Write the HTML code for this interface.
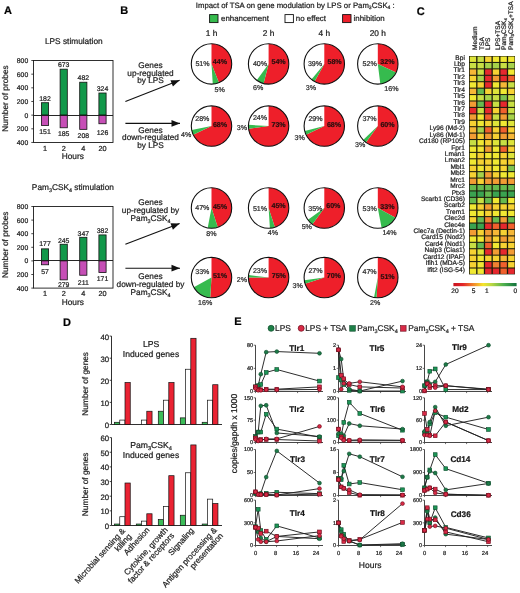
<!DOCTYPE html>
<html><head><meta charset="utf-8"><style>
html,body{margin:0;padding:0;background:#fff;width:520px;height:593px;overflow:hidden}
#w{will-change:transform;width:520px;height:593px}
svg{display:block;font-family:"Liberation Sans",sans-serif;text-rendering:geometricPrecision}
text{stroke-width:0.22px;stroke:#222}
</style></head><body><div id="w">
<svg width="520" height="593" viewBox="0 0 520 593">
<rect width="520" height="593" fill="#fff"/>
<text x="4.00" y="13.80" font-size="11" text-anchor="start" font-weight="bold" fill="#000" stroke="#000" >A</text>
<text x="120.30" y="13.90" font-size="11" text-anchor="start" font-weight="bold" fill="#000" stroke="#000" >B</text>
<text x="416.80" y="14.90" font-size="11" text-anchor="start" font-weight="bold" fill="#000" stroke="#000" >C</text>
<text x="63.00" y="325.60" font-size="11" text-anchor="start" font-weight="bold" fill="#000" stroke="#000" >D</text>
<text x="234.30" y="324.80" font-size="11" text-anchor="start" font-weight="bold" fill="#000" stroke="#000" >E</text>
<rect x="41.40" y="102.71" width="7.20" height="12.43" fill="#12984a" stroke="#111" stroke-width="0.8"/>
<rect x="41.40" y="115.14" width="7.20" height="10.31" fill="#c64fb6" stroke="#111" stroke-width="0.8"/>
<text x="45.00" y="100.91" font-size="6.9" text-anchor="middle" fill="#222" stroke="#222" >182</text>
<text x="45.00" y="133.50" font-size="6.9" text-anchor="middle" fill="#222" stroke="#222" >151</text>
<text x="45.00" y="150.70" font-size="7.3" text-anchor="middle" fill="#222" stroke="#222" >1</text>
<rect x="60.10" y="69.17" width="7.20" height="45.97" fill="#12984a" stroke="#111" stroke-width="0.8"/>
<rect x="60.10" y="115.14" width="7.20" height="12.64" fill="#c64fb6" stroke="#111" stroke-width="0.8"/>
<text x="63.70" y="66.67" font-size="6.9" text-anchor="middle" fill="#222" stroke="#222" >673</text>
<text x="63.70" y="135.60" font-size="6.9" text-anchor="middle" fill="#222" stroke="#222" >185</text>
<text x="63.70" y="150.70" font-size="7.3" text-anchor="middle" fill="#222" stroke="#222" >2</text>
<rect x="79.70" y="82.22" width="7.20" height="32.92" fill="#12984a" stroke="#111" stroke-width="0.8"/>
<rect x="79.70" y="115.14" width="7.20" height="14.21" fill="#c64fb6" stroke="#111" stroke-width="0.8"/>
<text x="83.30" y="80.22" font-size="6.9" text-anchor="middle" fill="#222" stroke="#222" >482</text>
<text x="83.30" y="137.90" font-size="6.9" text-anchor="middle" fill="#222" stroke="#222" >208</text>
<text x="83.30" y="150.70" font-size="7.3" text-anchor="middle" fill="#222" stroke="#222" >4</text>
<rect x="98.90" y="93.01" width="7.20" height="22.13" fill="#12984a" stroke="#111" stroke-width="0.8"/>
<rect x="98.90" y="115.14" width="7.20" height="8.61" fill="#c64fb6" stroke="#111" stroke-width="0.8"/>
<text x="102.50" y="91.01" font-size="6.9" text-anchor="middle" fill="#222" stroke="#222" >324</text>
<text x="102.50" y="135.40" font-size="6.9" text-anchor="middle" fill="#222" stroke="#222" >126</text>
<text x="102.50" y="150.70" font-size="7.3" text-anchor="middle" fill="#222" stroke="#222" >20</text>
<rect x="33.5" y="60.50" width="79.5" height="81.96" fill="none" stroke="#1a1a1a" stroke-width="0.9"/>
<line x1="33.50" y1="115.50" x2="113.00" y2="115.50" stroke="#1a1a1a" stroke-width="0.95" />
<line x1="31.30" y1="60.50" x2="33.50" y2="60.50" stroke="#1a1a1a" stroke-width="0.8" />
<text x="28.20" y="62.90" font-size="6.8" text-anchor="end" fill="#222" stroke="#222" >800</text>
<line x1="31.30" y1="74.16" x2="33.50" y2="74.16" stroke="#1a1a1a" stroke-width="0.8" />
<text x="28.20" y="76.56" font-size="6.8" text-anchor="end" fill="#222" stroke="#222" >600</text>
<line x1="31.30" y1="87.82" x2="33.50" y2="87.82" stroke="#1a1a1a" stroke-width="0.8" />
<text x="28.20" y="90.22" font-size="6.8" text-anchor="end" fill="#222" stroke="#222" >400</text>
<line x1="31.30" y1="101.48" x2="33.50" y2="101.48" stroke="#1a1a1a" stroke-width="0.8" />
<text x="28.20" y="103.88" font-size="6.8" text-anchor="end" fill="#222" stroke="#222" >200</text>
<line x1="31.30" y1="115.14" x2="33.50" y2="115.14" stroke="#1a1a1a" stroke-width="0.8" />
<text x="28.20" y="117.54" font-size="6.8" text-anchor="end" fill="#222" stroke="#222" >0</text>
<line x1="31.30" y1="128.80" x2="33.50" y2="128.80" stroke="#1a1a1a" stroke-width="0.8" />
<text x="28.20" y="131.20" font-size="6.8" text-anchor="end" fill="#222" stroke="#222" >200</text>
<line x1="31.30" y1="142.46" x2="33.50" y2="142.46" stroke="#1a1a1a" stroke-width="0.8" />
<text x="28.20" y="144.86" font-size="6.8" text-anchor="end" fill="#222" stroke="#222" >400</text>
<text x="72.80" y="158.80" font-size="8.3" text-anchor="middle" fill="#222" stroke="#222" >Hours</text>
<text x="0" y="0" font-size="8.3" text-anchor="middle" fill="#222" transform="translate(8.2,98.5) rotate(-90)">Number of probes</text>

<text x="73.80" y="44.40" font-size="8.3" text-anchor="middle" fill="#222" stroke="#222" >LPS stimulation</text>
<rect x="41.40" y="248.86" width="7.20" height="12.04" fill="#12984a" stroke="#111" stroke-width="0.8"/>
<rect x="41.40" y="260.90" width="7.20" height="3.88" fill="#c64fb6" stroke="#111" stroke-width="0.8"/>
<text x="45.00" y="246.46" font-size="6.9" text-anchor="middle" fill="#222" stroke="#222" >177</text>
<text x="45.00" y="273.50" font-size="6.9" text-anchor="middle" fill="#222" stroke="#222" >57</text>
<text x="45.00" y="296.40" font-size="7.3" text-anchor="middle" fill="#222" stroke="#222" >1</text>
<rect x="60.10" y="244.24" width="7.20" height="16.66" fill="#12984a" stroke="#111" stroke-width="0.8"/>
<rect x="60.10" y="260.90" width="7.20" height="18.97" fill="#c64fb6" stroke="#111" stroke-width="0.8"/>
<text x="63.70" y="242.74" font-size="6.9" text-anchor="middle" fill="#222" stroke="#222" >245</text>
<text x="63.70" y="286.60" font-size="6.9" text-anchor="middle" fill="#222" stroke="#222" >279</text>
<text x="63.70" y="296.40" font-size="7.3" text-anchor="middle" fill="#222" stroke="#222" >2</text>
<rect x="79.70" y="237.30" width="7.20" height="23.60" fill="#12984a" stroke="#111" stroke-width="0.8"/>
<rect x="79.70" y="260.90" width="7.20" height="14.35" fill="#c64fb6" stroke="#111" stroke-width="0.8"/>
<text x="83.30" y="235.80" font-size="6.9" text-anchor="middle" fill="#222" stroke="#222" >347</text>
<text x="83.30" y="284.50" font-size="6.9" text-anchor="middle" fill="#222" stroke="#222" >211</text>
<text x="83.30" y="296.40" font-size="7.3" text-anchor="middle" fill="#222" stroke="#222" >4</text>
<rect x="98.90" y="234.92" width="7.20" height="25.98" fill="#12984a" stroke="#111" stroke-width="0.8"/>
<rect x="98.90" y="260.90" width="7.20" height="11.63" fill="#c64fb6" stroke="#111" stroke-width="0.8"/>
<text x="102.50" y="232.72" font-size="6.9" text-anchor="middle" fill="#222" stroke="#222" >382</text>
<text x="102.50" y="280.90" font-size="6.9" text-anchor="middle" fill="#222" stroke="#222" >171</text>
<text x="102.50" y="296.40" font-size="7.3" text-anchor="middle" fill="#222" stroke="#222" >20</text>
<rect x="33.5" y="206.50" width="79.5" height="81.60" fill="none" stroke="#1a1a1a" stroke-width="0.9"/>
<line x1="33.50" y1="260.50" x2="113.00" y2="260.50" stroke="#1a1a1a" stroke-width="0.95" />
<line x1="31.30" y1="206.50" x2="33.50" y2="206.50" stroke="#1a1a1a" stroke-width="0.8" />
<text x="28.20" y="208.90" font-size="6.8" text-anchor="end" fill="#222" stroke="#222" >800</text>
<line x1="31.30" y1="220.10" x2="33.50" y2="220.10" stroke="#1a1a1a" stroke-width="0.8" />
<text x="28.20" y="222.50" font-size="6.8" text-anchor="end" fill="#222" stroke="#222" >600</text>
<line x1="31.30" y1="233.70" x2="33.50" y2="233.70" stroke="#1a1a1a" stroke-width="0.8" />
<text x="28.20" y="236.10" font-size="6.8" text-anchor="end" fill="#222" stroke="#222" >400</text>
<line x1="31.30" y1="247.30" x2="33.50" y2="247.30" stroke="#1a1a1a" stroke-width="0.8" />
<text x="28.20" y="249.70" font-size="6.8" text-anchor="end" fill="#222" stroke="#222" >200</text>
<line x1="31.30" y1="260.90" x2="33.50" y2="260.90" stroke="#1a1a1a" stroke-width="0.8" />
<text x="28.20" y="263.30" font-size="6.8" text-anchor="end" fill="#222" stroke="#222" >0</text>
<line x1="31.30" y1="274.50" x2="33.50" y2="274.50" stroke="#1a1a1a" stroke-width="0.8" />
<text x="28.20" y="276.90" font-size="6.8" text-anchor="end" fill="#222" stroke="#222" >200</text>
<line x1="31.30" y1="288.10" x2="33.50" y2="288.10" stroke="#1a1a1a" stroke-width="0.8" />
<text x="28.20" y="290.50" font-size="6.8" text-anchor="end" fill="#222" stroke="#222" >400</text>
<text x="72.80" y="304.60" font-size="8.3" text-anchor="middle" fill="#222" stroke="#222" >Hours</text>
<text x="0" y="0" font-size="8.3" text-anchor="middle" fill="#222" transform="translate(8.2,244.7) rotate(-90)">Number of probes</text>

<text x="72.9" y="190.4" font-size="8.3" text-anchor="middle" fill="#222">Pam<tspan font-size="65%" dy="1.6">3</tspan><tspan dy="-1.6">CSK</tspan><tspan font-size="65%" dy="1.6">4</tspan><tspan dy="-1.6"> stimulation</tspan></text>
<text x="195.8" y="7.6" font-size="7.75" fill="#222">Impact of TSA on gene modulation by LPS or Pam<tspan font-size="65%" dy="1.4">3</tspan><tspan dy="-1.4">CSK</tspan><tspan font-size="65%" dy="1.4">4</tspan><tspan dy="-1.4"> :</tspan></text>
<rect x="209.60" y="14.60" width="8.40" height="8.00" fill="#36bb4e" stroke="#111" stroke-width="0.9"/>
<text x="221.00" y="20.80" font-size="7.9" text-anchor="start" fill="#222" stroke="#222" >enhancement</text>
<rect x="285.00" y="14.60" width="8.40" height="8.00" fill="#fff" stroke="#111" stroke-width="0.9"/>
<text x="295.80" y="20.80" font-size="7.9" text-anchor="start" fill="#222" stroke="#222" >no effect</text>
<rect x="342.60" y="14.60" width="8.40" height="8.00" fill="#ee1f2a" stroke="#111" stroke-width="0.9"/>
<text x="353.60" y="20.80" font-size="7.9" text-anchor="start" fill="#222" stroke="#222" >inhibition</text>
<text x="211.50" y="36.30" font-size="8.3" text-anchor="middle" fill="#111" stroke="#111" >1 h</text>
<text x="268.60" y="36.30" font-size="8.3" text-anchor="middle" fill="#111" stroke="#111" >2 h</text>
<text x="324.30" y="36.30" font-size="8.3" text-anchor="middle" fill="#111" stroke="#111" >4 h</text>
<text x="377.80" y="36.30" font-size="8.3" text-anchor="middle" fill="#111" stroke="#111" >20 h</text>
<circle cx="211.5" cy="63.9" r="20.2" fill="#fff"/>
<path d="M211.5,63.9 L211.50,43.70 A20.2,20.2 0 0 1 218.94,82.68 Z" fill="#ee1f2a"/>
<path d="M211.5,63.9 L218.94,82.68 A20.2,20.2 0 0 1 212.77,84.06 Z" fill="#36bb4e"/>
<circle cx="211.5" cy="63.9" r="20.2" fill="none" stroke="#111" stroke-width="1.1"/>
<circle cx="268.6" cy="63.9" r="20.2" fill="#fff"/>
<path d="M268.6,63.9 L268.60,43.70 A20.2,20.2 0 1 1 263.58,83.47 Z" fill="#ee1f2a"/>
<path d="M268.6,63.9 L263.58,83.47 A20.2,20.2 0 0 1 256.73,80.24 Z" fill="#36bb4e"/>
<circle cx="268.6" cy="63.9" r="20.2" fill="none" stroke="#111" stroke-width="1.1"/>
<circle cx="324.3" cy="63.9" r="20.2" fill="#fff"/>
<path d="M324.3,63.9 L324.30,43.70 A20.2,20.2 0 1 1 314.57,81.60 Z" fill="#ee1f2a"/>
<path d="M324.3,63.9 L314.57,81.60 A20.2,20.2 0 0 1 311.42,79.46 Z" fill="#36bb4e"/>
<circle cx="324.3" cy="63.9" r="20.2" fill="none" stroke="#111" stroke-width="1.1"/>
<circle cx="377.8" cy="63.9" r="20.2" fill="#fff"/>
<path d="M377.8,63.9 L377.80,43.70 A20.2,20.2 0 0 1 396.08,72.50 Z" fill="#ee1f2a"/>
<path d="M377.8,63.9 L396.08,72.50 A20.2,20.2 0 0 1 380.33,83.94 Z" fill="#36bb4e"/>
<circle cx="377.8" cy="63.9" r="20.2" fill="none" stroke="#111" stroke-width="1.1"/>
<circle cx="211.5" cy="126.1" r="20.2" fill="#fff"/>
<path d="M211.5,126.1 L211.50,105.90 A20.2,20.2 0 1 1 193.22,134.70 Z" fill="#ee1f2a"/>
<path d="M211.5,126.1 L193.22,134.70 A20.2,20.2 0 0 1 191.66,129.89 Z" fill="#36bb4e"/>
<circle cx="211.5" cy="126.1" r="20.2" fill="none" stroke="#111" stroke-width="1.1"/>
<circle cx="268.6" cy="126.1" r="20.2" fill="#fff"/>
<path d="M268.6,126.1 L268.60,105.90 A20.2,20.2 0 1 1 248.56,128.63 Z" fill="#ee1f2a"/>
<path d="M268.6,126.1 L248.56,128.63 A20.2,20.2 0 0 1 248.44,124.83 Z" fill="#36bb4e"/>
<circle cx="268.6" cy="126.1" r="20.2" fill="none" stroke="#111" stroke-width="1.1"/>
<circle cx="324.3" cy="126.1" r="20.2" fill="#fff"/>
<path d="M324.3,126.1 L324.30,105.90 A20.2,20.2 0 1 1 306.02,134.70 Z" fill="#ee1f2a"/>
<path d="M324.3,126.1 L306.02,134.70 A20.2,20.2 0 0 1 304.73,131.12 Z" fill="#36bb4e"/>
<circle cx="324.3" cy="126.1" r="20.2" fill="none" stroke="#111" stroke-width="1.1"/>
<circle cx="377.8" cy="126.1" r="20.2" fill="#fff"/>
<path d="M377.8,126.1 L377.80,105.90 A20.2,20.2 0 1 1 365.93,142.44 Z" fill="#ee1f2a"/>
<path d="M377.8,126.1 L365.93,142.44 A20.2,20.2 0 0 1 363.07,139.93 Z" fill="#36bb4e"/>
<circle cx="377.8" cy="126.1" r="20.2" fill="none" stroke="#111" stroke-width="1.1"/>
<circle cx="211.5" cy="208.0" r="20.2" fill="#fff"/>
<path d="M211.5,208.0 L211.50,187.80 A20.2,20.2 0 0 1 217.74,227.21 Z" fill="#ee1f2a"/>
<path d="M211.5,208.0 L217.74,227.21 A20.2,20.2 0 0 1 207.71,227.84 Z" fill="#36bb4e"/>
<circle cx="211.5" cy="208.0" r="20.2" fill="none" stroke="#111" stroke-width="1.1"/>
<circle cx="268.6" cy="208.0" r="20.2" fill="#fff"/>
<path d="M268.6,208.0 L268.60,187.80 A20.2,20.2 0 0 1 274.84,227.21 Z" fill="#ee1f2a"/>
<path d="M268.6,208.0 L274.84,227.21 A20.2,20.2 0 0 1 269.87,228.16 Z" fill="#36bb4e"/>
<circle cx="268.6" cy="208.0" r="20.2" fill="none" stroke="#111" stroke-width="1.1"/>
<circle cx="324.3" cy="208.0" r="20.2" fill="#fff"/>
<path d="M324.3,208.0 L324.30,187.80 A20.2,20.2 0 1 1 312.43,224.34 Z" fill="#ee1f2a"/>
<path d="M324.3,208.0 L312.43,224.34 A20.2,20.2 0 0 1 307.96,219.87 Z" fill="#36bb4e"/>
<circle cx="324.3" cy="208.0" r="20.2" fill="none" stroke="#111" stroke-width="1.1"/>
<circle cx="377.8" cy="208.0" r="20.2" fill="#fff"/>
<path d="M377.8,208.0 L377.80,187.80 A20.2,20.2 0 0 1 395.50,217.73 Z" fill="#ee1f2a"/>
<path d="M377.8,208.0 L395.50,217.73 A20.2,20.2 0 0 1 381.59,227.84 Z" fill="#36bb4e"/>
<circle cx="377.8" cy="208.0" r="20.2" fill="none" stroke="#111" stroke-width="1.1"/>
<circle cx="211.5" cy="277.6" r="20.2" fill="#fff"/>
<path d="M211.5,277.6 L211.50,257.40 A20.2,20.2 0 1 1 210.23,297.76 Z" fill="#ee1f2a"/>
<path d="M211.5,277.6 L210.23,297.76 A20.2,20.2 0 0 1 193.80,287.33 Z" fill="#36bb4e"/>
<circle cx="211.5" cy="277.6" r="20.2" fill="none" stroke="#111" stroke-width="1.1"/>
<circle cx="268.6" cy="277.6" r="20.2" fill="#fff"/>
<path d="M268.6,277.6 L268.60,257.40 A20.2,20.2 0 1 1 248.40,277.60 Z" fill="#ee1f2a"/>
<path d="M268.6,277.6 L248.40,277.60 A20.2,20.2 0 0 1 248.56,275.07 Z" fill="#36bb4e"/>
<circle cx="268.6" cy="277.6" r="20.2" fill="none" stroke="#111" stroke-width="1.1"/>
<circle cx="324.3" cy="277.6" r="20.2" fill="#fff"/>
<path d="M324.3,277.6 L324.30,257.40 A20.2,20.2 0 1 1 305.09,283.84 Z" fill="#ee1f2a"/>
<path d="M324.3,277.6 L305.09,283.84 A20.2,20.2 0 0 1 304.26,280.13 Z" fill="#36bb4e"/>
<circle cx="324.3" cy="277.6" r="20.2" fill="none" stroke="#111" stroke-width="1.1"/>
<circle cx="377.8" cy="277.6" r="20.2" fill="#fff"/>
<path d="M377.8,277.6 L377.80,257.40 A20.2,20.2 0 1 1 376.53,297.76 Z" fill="#ee1f2a"/>
<path d="M377.8,277.6 L376.53,297.76 A20.2,20.2 0 0 1 374.01,297.44 Z" fill="#36bb4e"/>
<circle cx="377.8" cy="277.6" r="20.2" fill="none" stroke="#111" stroke-width="1.1"/>
<text x="202.50" y="66.20" font-size="7.1" text-anchor="middle" fill="#333" stroke="#333" >51%</text>
<text x="219.90" y="63.80" font-size="7.1" text-anchor="middle" font-weight="bold" fill="#300" stroke="#300" >44%</text>
<text x="219.60" y="91.50" font-size="7.1" text-anchor="middle" fill="#333" stroke="#333" >5%</text>
<text x="260.00" y="65.80" font-size="7.1" text-anchor="middle" fill="#333" stroke="#333" >40%</text>
<text x="278.60" y="63.80" font-size="7.1" text-anchor="middle" font-weight="bold" fill="#300" stroke="#300" >54%</text>
<text x="258.20" y="90.00" font-size="7.1" text-anchor="middle" fill="#333" stroke="#333" >6%</text>
<text x="315.00" y="65.80" font-size="7.1" text-anchor="middle" fill="#333" stroke="#333" >39%</text>
<text x="334.60" y="63.60" font-size="7.1" text-anchor="middle" font-weight="bold" fill="#300" stroke="#300" >58%</text>
<text x="310.90" y="90.00" font-size="7.1" text-anchor="middle" fill="#333" stroke="#333" >3%</text>
<text x="369.70" y="66.00" font-size="7.1" text-anchor="middle" fill="#333" stroke="#333" >52%</text>
<text x="387.40" y="63.80" font-size="7.1" text-anchor="middle" font-weight="bold" fill="#300" stroke="#300" >32%</text>
<text x="391.40" y="90.50" font-size="7.1" text-anchor="middle" fill="#333" stroke="#333" >16%</text>
<text x="202.30" y="120.70" font-size="7.1" text-anchor="middle" fill="#333" stroke="#333" >28%</text>
<text x="220.00" y="126.50" font-size="7.1" text-anchor="middle" font-weight="bold" fill="#300" stroke="#300" >68%</text>
<text x="186.10" y="137.30" font-size="7.1" text-anchor="middle" fill="#333" stroke="#333" >4%</text>
<text x="260.00" y="120.40" font-size="7.1" text-anchor="middle" fill="#333" stroke="#333" >24%</text>
<text x="278.60" y="126.50" font-size="7.1" text-anchor="middle" font-weight="bold" fill="#300" stroke="#300" >73%</text>
<text x="242.00" y="130.00" font-size="7.1" text-anchor="middle" fill="#333" stroke="#333" >3%</text>
<text x="315.50" y="121.00" font-size="7.1" text-anchor="middle" fill="#333" stroke="#333" >29%</text>
<text x="334.00" y="126.70" font-size="7.1" text-anchor="middle" font-weight="bold" fill="#300" stroke="#300" >68%</text>
<text x="299.60" y="139.60" font-size="7.1" text-anchor="middle" fill="#333" stroke="#333" >3%</text>
<text x="369.50" y="121.00" font-size="7.1" text-anchor="middle" fill="#333" stroke="#333" >37%</text>
<text x="387.50" y="126.70" font-size="7.1" text-anchor="middle" font-weight="bold" fill="#300" stroke="#300" >60%</text>
<text x="360.10" y="147.30" font-size="7.1" text-anchor="middle" fill="#333" stroke="#333" >3%</text>
<text x="202.30" y="210.30" font-size="7.1" text-anchor="middle" fill="#333" stroke="#333" >47%</text>
<text x="220.00" y="208.50" font-size="7.1" text-anchor="middle" font-weight="bold" fill="#300" stroke="#300" >45%</text>
<text x="211.50" y="235.80" font-size="7.1" text-anchor="middle" fill="#333" stroke="#333" >8%</text>
<text x="260.00" y="210.80" font-size="7.1" text-anchor="middle" fill="#333" stroke="#333" >51%</text>
<text x="278.60" y="207.90" font-size="7.1" text-anchor="middle" font-weight="bold" fill="#300" stroke="#300" >45%</text>
<text x="273.00" y="235.40" font-size="7.1" text-anchor="middle" fill="#333" stroke="#333" >4%</text>
<text x="315.30" y="210.80" font-size="7.1" text-anchor="middle" fill="#333" stroke="#333" >35%</text>
<text x="333.30" y="208.00" font-size="7.1" text-anchor="middle" font-weight="bold" fill="#300" stroke="#300" >60%</text>
<text x="306.80" y="229.00" font-size="7.1" text-anchor="middle" fill="#333" stroke="#333" >5%</text>
<text x="369.70" y="210.80" font-size="7.1" text-anchor="middle" fill="#333" stroke="#333" >53%</text>
<text x="387.40" y="208.50" font-size="7.1" text-anchor="middle" font-weight="bold" fill="#300" stroke="#300" >33%</text>
<text x="389.50" y="235.40" font-size="7.1" text-anchor="middle" fill="#333" stroke="#333" >14%</text>
<text x="202.30" y="273.50" font-size="7.1" text-anchor="middle" fill="#333" stroke="#333" >33%</text>
<text x="220.00" y="278.00" font-size="7.1" text-anchor="middle" font-weight="bold" fill="#300" stroke="#300" >51%</text>
<text x="205.20" y="305.00" font-size="7.1" text-anchor="middle" fill="#333" stroke="#333" >16%</text>
<text x="260.00" y="273.00" font-size="7.1" text-anchor="middle" fill="#333" stroke="#333" >23%</text>
<text x="278.80" y="277.90" font-size="7.1" text-anchor="middle" font-weight="bold" fill="#300" stroke="#300" >75%</text>
<text x="242.00" y="282.00" font-size="7.1" text-anchor="middle" fill="#333" stroke="#333" >2%</text>
<text x="315.50" y="273.00" font-size="7.1" text-anchor="middle" fill="#333" stroke="#333" >27%</text>
<text x="333.80" y="278.00" font-size="7.1" text-anchor="middle" font-weight="bold" fill="#300" stroke="#300" >70%</text>
<text x="297.70" y="288.00" font-size="7.1" text-anchor="middle" fill="#333" stroke="#333" >3%</text>
<text x="369.60" y="273.70" font-size="7.1" text-anchor="middle" fill="#333" stroke="#333" >47%</text>
<text x="387.60" y="278.90" font-size="7.1" text-anchor="middle" font-weight="bold" fill="#300" stroke="#300" >51%</text>
<text x="375.20" y="304.90" font-size="7.1" text-anchor="middle" fill="#333" stroke="#333" >2%</text>
<line x1="125.40" y1="101.50" x2="179.60" y2="80.30" stroke="#111" stroke-width="1.1" />
<path d="M179.60,80.30 L172.92,86.56 L170.45,80.23 Z" fill="#111"/>
<line x1="125.40" y1="123.40" x2="180.00" y2="123.40" stroke="#111" stroke-width="1.1" />
<path d="M180.00,123.40 L171.50,126.80 L171.50,120.00 Z" fill="#111"/>
<line x1="125.40" y1="244.30" x2="179.60" y2="223.40" stroke="#111" stroke-width="1.1" />
<path d="M179.60,223.40 L172.89,229.63 L170.45,223.29 Z" fill="#111"/>
<line x1="125.40" y1="268.20" x2="180.00" y2="268.20" stroke="#111" stroke-width="1.1" />
<path d="M180.00,268.20 L171.50,271.60 L171.50,264.80 Z" fill="#111"/>
<text x="150.50" y="68.00" font-size="8.25" text-anchor="middle" fill="#222" stroke="#222" >Genes</text>
<text x="150.50" y="75.70" font-size="8.25" text-anchor="middle" fill="#222" stroke="#222" >up-regulated</text>
<text x="150.50" y="83.00" font-size="8.25" text-anchor="middle" fill="#222" stroke="#222" >by LPS</text>
<text x="150.50" y="132.60" font-size="8.25" text-anchor="middle" fill="#222" stroke="#222" >Genes</text>
<text x="150.50" y="140.30" font-size="8.25" text-anchor="middle" fill="#222" stroke="#222" >down-regulated</text>
<text x="150.50" y="147.70" font-size="8.25" text-anchor="middle" fill="#222" stroke="#222" >by LPS</text>
<text x="150.50" y="205.40" font-size="8.25" text-anchor="middle" fill="#222" stroke="#222" >Genes</text>
<text x="150.50" y="213.20" font-size="8.25" text-anchor="middle" fill="#222" stroke="#222" >up-regulated by</text>
<text x="150.5" y="221.0" font-size="8.25" text-anchor="middle" fill="#222">Pam<tspan font-size="65%" dy="1.6">3</tspan><tspan dy="-1.6">CSK</tspan><tspan font-size="65%" dy="1.6">4</tspan><tspan dy="-1.6"></tspan></text>
<text x="150.50" y="278.60" font-size="8.25" text-anchor="middle" fill="#222" stroke="#222" >Genes</text>
<text x="150.50" y="286.60" font-size="8.25" text-anchor="middle" fill="#222" stroke="#222" >down-regulated by</text>
<text x="150.5" y="295.2" font-size="8.25" text-anchor="middle" fill="#222">Pam<tspan font-size="65%" dy="1.6">3</tspan><tspan dy="-1.6">CSK</tspan><tspan font-size="65%" dy="1.6">4</tspan><tspan dy="-1.6"></tspan></text>
<rect x="469.00" y="56.00" width="46.00" height="218.40" fill="#1c1c0c" stroke="none" stroke-width="0.8"/>
<rect x="469.80" y="56.55" width="6.37" height="5.37" fill="#dde43a" stroke="none" stroke-width="0.8"/>
<rect x="477.47" y="56.55" width="6.37" height="5.37" fill="#c8df44" stroke="none" stroke-width="0.8"/>
<rect x="485.13" y="56.55" width="6.37" height="5.37" fill="#f6d233" stroke="none" stroke-width="0.8"/>
<rect x="492.80" y="56.55" width="6.37" height="5.37" fill="#f0e833" stroke="none" stroke-width="0.8"/>
<rect x="500.47" y="56.55" width="6.37" height="5.37" fill="#f0e833" stroke="none" stroke-width="0.8"/>
<rect x="508.13" y="56.55" width="6.37" height="5.37" fill="#f0e833" stroke="none" stroke-width="0.8"/>
<text x="464.90" y="59.61" font-size="6.6" text-anchor="end" fill="#222" stroke="#222" >Bpi</text>
<rect x="469.80" y="62.97" width="6.37" height="5.37" fill="#c8df44" stroke="none" stroke-width="0.8"/>
<rect x="477.47" y="62.97" width="6.37" height="5.37" fill="#c8df44" stroke="none" stroke-width="0.8"/>
<rect x="485.13" y="62.97" width="6.37" height="5.37" fill="#a6d24a" stroke="none" stroke-width="0.8"/>
<rect x="492.80" y="62.97" width="6.37" height="5.37" fill="#a6d24a" stroke="none" stroke-width="0.8"/>
<rect x="500.47" y="62.97" width="6.37" height="5.37" fill="#c8df44" stroke="none" stroke-width="0.8"/>
<rect x="508.13" y="62.97" width="6.37" height="5.37" fill="#a6d24a" stroke="none" stroke-width="0.8"/>
<text x="464.90" y="66.04" font-size="6.6" text-anchor="end" fill="#222" stroke="#222" >Lbp</text>
<rect x="469.80" y="69.40" width="6.37" height="5.37" fill="#f5b737" stroke="none" stroke-width="0.8"/>
<rect x="477.47" y="69.40" width="6.37" height="5.37" fill="#c8df44" stroke="none" stroke-width="0.8"/>
<rect x="485.13" y="69.40" width="6.37" height="5.37" fill="#e6282e" stroke="none" stroke-width="0.8"/>
<rect x="492.80" y="69.40" width="6.37" height="5.37" fill="#f6d233" stroke="none" stroke-width="0.8"/>
<rect x="500.47" y="69.40" width="6.37" height="5.37" fill="#e6282e" stroke="none" stroke-width="0.8"/>
<rect x="508.13" y="69.40" width="6.37" height="5.37" fill="#f0e833" stroke="none" stroke-width="0.8"/>
<text x="464.90" y="72.46" font-size="6.6" text-anchor="end" fill="#222" stroke="#222" >Tlr1</text>
<rect x="469.80" y="75.82" width="6.37" height="5.37" fill="#f6d233" stroke="none" stroke-width="0.8"/>
<rect x="477.47" y="75.82" width="6.37" height="5.37" fill="#a6d24a" stroke="none" stroke-width="0.8"/>
<rect x="485.13" y="75.82" width="6.37" height="5.37" fill="#e6282e" stroke="none" stroke-width="0.8"/>
<rect x="492.80" y="75.82" width="6.37" height="5.37" fill="#f29c34" stroke="none" stroke-width="0.8"/>
<rect x="500.47" y="75.82" width="6.37" height="5.37" fill="#e6282e" stroke="none" stroke-width="0.8"/>
<rect x="508.13" y="75.82" width="6.37" height="5.37" fill="#f0602d" stroke="none" stroke-width="0.8"/>
<text x="464.90" y="78.88" font-size="6.6" text-anchor="end" fill="#222" stroke="#222" >Tlr2</text>
<rect x="469.80" y="82.24" width="6.37" height="5.37" fill="#f0e833" stroke="none" stroke-width="0.8"/>
<rect x="477.47" y="82.24" width="6.37" height="5.37" fill="#f6d233" stroke="none" stroke-width="0.8"/>
<rect x="485.13" y="82.24" width="6.37" height="5.37" fill="#e6282e" stroke="none" stroke-width="0.8"/>
<rect x="492.80" y="82.24" width="6.37" height="5.37" fill="#f0e833" stroke="none" stroke-width="0.8"/>
<rect x="500.47" y="82.24" width="6.37" height="5.37" fill="#f5b737" stroke="none" stroke-width="0.8"/>
<rect x="508.13" y="82.24" width="6.37" height="5.37" fill="#c8df44" stroke="none" stroke-width="0.8"/>
<text x="464.90" y="85.31" font-size="6.6" text-anchor="end" fill="#222" stroke="#222" >Tlr3</text>
<rect x="469.80" y="88.67" width="6.37" height="5.37" fill="#f5b737" stroke="none" stroke-width="0.8"/>
<rect x="477.47" y="88.67" width="6.37" height="5.37" fill="#66ba4f" stroke="none" stroke-width="0.8"/>
<rect x="485.13" y="88.67" width="6.37" height="5.37" fill="#f6d233" stroke="none" stroke-width="0.8"/>
<rect x="492.80" y="88.67" width="6.37" height="5.37" fill="#dde43a" stroke="none" stroke-width="0.8"/>
<rect x="500.47" y="88.67" width="6.37" height="5.37" fill="#f0e833" stroke="none" stroke-width="0.8"/>
<rect x="508.13" y="88.67" width="6.37" height="5.37" fill="#f6d233" stroke="none" stroke-width="0.8"/>
<text x="464.90" y="91.73" font-size="6.6" text-anchor="end" fill="#222" stroke="#222" >Tlr4</text>
<rect x="469.80" y="95.09" width="6.37" height="5.37" fill="#f0e833" stroke="none" stroke-width="0.8"/>
<rect x="477.47" y="95.09" width="6.37" height="5.37" fill="#c8df44" stroke="none" stroke-width="0.8"/>
<rect x="485.13" y="95.09" width="6.37" height="5.37" fill="#a6d24a" stroke="none" stroke-width="0.8"/>
<rect x="492.80" y="95.09" width="6.37" height="5.37" fill="#c8df44" stroke="none" stroke-width="0.8"/>
<rect x="500.47" y="95.09" width="6.37" height="5.37" fill="#7ec251" stroke="none" stroke-width="0.8"/>
<rect x="508.13" y="95.09" width="6.37" height="5.37" fill="#c8df44" stroke="none" stroke-width="0.8"/>
<text x="464.90" y="98.15" font-size="6.6" text-anchor="end" fill="#222" stroke="#222" >Tlr5</text>
<rect x="469.80" y="101.51" width="6.37" height="5.37" fill="#f29c34" stroke="none" stroke-width="0.8"/>
<rect x="477.47" y="101.51" width="6.37" height="5.37" fill="#66ba4f" stroke="none" stroke-width="0.8"/>
<rect x="485.13" y="101.51" width="6.37" height="5.37" fill="#e6282e" stroke="none" stroke-width="0.8"/>
<rect x="492.80" y="101.51" width="6.37" height="5.37" fill="#c8df44" stroke="none" stroke-width="0.8"/>
<rect x="500.47" y="101.51" width="6.37" height="5.37" fill="#e6282e" stroke="none" stroke-width="0.8"/>
<rect x="508.13" y="101.51" width="6.37" height="5.37" fill="#c8df44" stroke="none" stroke-width="0.8"/>
<text x="464.90" y="104.58" font-size="6.6" text-anchor="end" fill="#222" stroke="#222" >Tlr6</text>
<rect x="469.80" y="107.94" width="6.37" height="5.37" fill="#e6282e" stroke="none" stroke-width="0.8"/>
<rect x="477.47" y="107.94" width="6.37" height="5.37" fill="#c8df44" stroke="none" stroke-width="0.8"/>
<rect x="485.13" y="107.94" width="6.37" height="5.37" fill="#e6282e" stroke="none" stroke-width="0.8"/>
<rect x="492.80" y="107.94" width="6.37" height="5.37" fill="#f6d233" stroke="none" stroke-width="0.8"/>
<rect x="500.47" y="107.94" width="6.37" height="5.37" fill="#f0602d" stroke="none" stroke-width="0.8"/>
<rect x="508.13" y="107.94" width="6.37" height="5.37" fill="#c8df44" stroke="none" stroke-width="0.8"/>
<text x="464.90" y="111.00" font-size="6.6" text-anchor="end" fill="#222" stroke="#222" >Tlr7</text>
<rect x="469.80" y="114.36" width="6.37" height="5.37" fill="#f29c34" stroke="none" stroke-width="0.8"/>
<rect x="477.47" y="114.36" width="6.37" height="5.37" fill="#f0e833" stroke="none" stroke-width="0.8"/>
<rect x="485.13" y="114.36" width="6.37" height="5.37" fill="#f0602d" stroke="none" stroke-width="0.8"/>
<rect x="492.80" y="114.36" width="6.37" height="5.37" fill="#c8df44" stroke="none" stroke-width="0.8"/>
<rect x="500.47" y="114.36" width="6.37" height="5.37" fill="#f29c34" stroke="none" stroke-width="0.8"/>
<rect x="508.13" y="114.36" width="6.37" height="5.37" fill="#a6d24a" stroke="none" stroke-width="0.8"/>
<text x="464.90" y="117.42" font-size="6.6" text-anchor="end" fill="#222" stroke="#222" >Tlr8</text>
<rect x="469.80" y="120.79" width="6.37" height="5.37" fill="#f6d233" stroke="none" stroke-width="0.8"/>
<rect x="477.47" y="120.79" width="6.37" height="5.37" fill="#f0e833" stroke="none" stroke-width="0.8"/>
<rect x="485.13" y="120.79" width="6.37" height="5.37" fill="#f6d233" stroke="none" stroke-width="0.8"/>
<rect x="492.80" y="120.79" width="6.37" height="5.37" fill="#dde43a" stroke="none" stroke-width="0.8"/>
<rect x="500.47" y="120.79" width="6.37" height="5.37" fill="#f0e833" stroke="none" stroke-width="0.8"/>
<rect x="508.13" y="120.79" width="6.37" height="5.37" fill="#dde43a" stroke="none" stroke-width="0.8"/>
<text x="464.90" y="123.85" font-size="6.6" text-anchor="end" fill="#222" stroke="#222" >Tlr9</text>
<rect x="469.80" y="127.21" width="6.37" height="5.37" fill="#f5b737" stroke="none" stroke-width="0.8"/>
<rect x="477.47" y="127.21" width="6.37" height="5.37" fill="#a6d24a" stroke="none" stroke-width="0.8"/>
<rect x="485.13" y="127.21" width="6.37" height="5.37" fill="#f0602d" stroke="none" stroke-width="0.8"/>
<rect x="492.80" y="127.21" width="6.37" height="5.37" fill="#f6d233" stroke="none" stroke-width="0.8"/>
<rect x="500.47" y="127.21" width="6.37" height="5.37" fill="#f0602d" stroke="none" stroke-width="0.8"/>
<rect x="508.13" y="127.21" width="6.37" height="5.37" fill="#f6d233" stroke="none" stroke-width="0.8"/>
<text x="464.90" y="130.27" font-size="6.6" text-anchor="end" fill="#222" stroke="#222" >Ly96 (Md-2)</text>
<rect x="469.80" y="133.63" width="6.37" height="5.37" fill="#f29c34" stroke="none" stroke-width="0.8"/>
<rect x="477.47" y="133.63" width="6.37" height="5.37" fill="#f6d233" stroke="none" stroke-width="0.8"/>
<rect x="485.13" y="133.63" width="6.37" height="5.37" fill="#f29c34" stroke="none" stroke-width="0.8"/>
<rect x="492.80" y="133.63" width="6.37" height="5.37" fill="#f6d233" stroke="none" stroke-width="0.8"/>
<rect x="500.47" y="133.63" width="6.37" height="5.37" fill="#f29c34" stroke="none" stroke-width="0.8"/>
<rect x="508.13" y="133.63" width="6.37" height="5.37" fill="#f5b737" stroke="none" stroke-width="0.8"/>
<text x="464.90" y="136.69" font-size="6.6" text-anchor="end" fill="#222" stroke="#222" >Ly86 (Md-1)</text>
<rect x="469.80" y="140.06" width="6.37" height="5.37" fill="#c8df44" stroke="none" stroke-width="0.8"/>
<rect x="477.47" y="140.06" width="6.37" height="5.37" fill="#f0e833" stroke="none" stroke-width="0.8"/>
<rect x="485.13" y="140.06" width="6.37" height="5.37" fill="#f6d233" stroke="none" stroke-width="0.8"/>
<rect x="492.80" y="140.06" width="6.37" height="5.37" fill="#dde43a" stroke="none" stroke-width="0.8"/>
<rect x="500.47" y="140.06" width="6.37" height="5.37" fill="#c8df44" stroke="none" stroke-width="0.8"/>
<rect x="508.13" y="140.06" width="6.37" height="5.37" fill="#dde43a" stroke="none" stroke-width="0.8"/>
<text x="464.90" y="143.12" font-size="6.6" text-anchor="end" fill="#222" stroke="#222" >Cd180 (RP105)</text>
<rect x="469.80" y="146.48" width="6.37" height="5.37" fill="#f0e833" stroke="none" stroke-width="0.8"/>
<rect x="477.47" y="146.48" width="6.37" height="5.37" fill="#f0e833" stroke="none" stroke-width="0.8"/>
<rect x="485.13" y="146.48" width="6.37" height="5.37" fill="#f29c34" stroke="none" stroke-width="0.8"/>
<rect x="492.80" y="146.48" width="6.37" height="5.37" fill="#f0e833" stroke="none" stroke-width="0.8"/>
<rect x="500.47" y="146.48" width="6.37" height="5.37" fill="#f0602d" stroke="none" stroke-width="0.8"/>
<rect x="508.13" y="146.48" width="6.37" height="5.37" fill="#f6d233" stroke="none" stroke-width="0.8"/>
<text x="464.90" y="149.54" font-size="6.6" text-anchor="end" fill="#222" stroke="#222" >Fpr1</text>
<rect x="469.80" y="152.90" width="6.37" height="5.37" fill="#f0e833" stroke="none" stroke-width="0.8"/>
<rect x="477.47" y="152.90" width="6.37" height="5.37" fill="#f6d233" stroke="none" stroke-width="0.8"/>
<rect x="485.13" y="152.90" width="6.37" height="5.37" fill="#f0e833" stroke="none" stroke-width="0.8"/>
<rect x="492.80" y="152.90" width="6.37" height="5.37" fill="#f0e833" stroke="none" stroke-width="0.8"/>
<rect x="500.47" y="152.90" width="6.37" height="5.37" fill="#f6d233" stroke="none" stroke-width="0.8"/>
<rect x="508.13" y="152.90" width="6.37" height="5.37" fill="#dde43a" stroke="none" stroke-width="0.8"/>
<text x="464.90" y="155.96" font-size="6.6" text-anchor="end" fill="#222" stroke="#222" >Lman1</text>
<rect x="469.80" y="159.33" width="6.37" height="5.37" fill="#f0e833" stroke="none" stroke-width="0.8"/>
<rect x="477.47" y="159.33" width="6.37" height="5.37" fill="#f6d233" stroke="none" stroke-width="0.8"/>
<rect x="485.13" y="159.33" width="6.37" height="5.37" fill="#f6d233" stroke="none" stroke-width="0.8"/>
<rect x="492.80" y="159.33" width="6.37" height="5.37" fill="#f0e833" stroke="none" stroke-width="0.8"/>
<rect x="500.47" y="159.33" width="6.37" height="5.37" fill="#f6d233" stroke="none" stroke-width="0.8"/>
<rect x="508.13" y="159.33" width="6.37" height="5.37" fill="#f6d233" stroke="none" stroke-width="0.8"/>
<text x="464.90" y="162.39" font-size="6.6" text-anchor="end" fill="#222" stroke="#222" >Lman2</text>
<rect x="469.80" y="165.75" width="6.37" height="5.37" fill="#f6d233" stroke="none" stroke-width="0.8"/>
<rect x="477.47" y="165.75" width="6.37" height="5.37" fill="#f0e833" stroke="none" stroke-width="0.8"/>
<rect x="485.13" y="165.75" width="6.37" height="5.37" fill="#f6d233" stroke="none" stroke-width="0.8"/>
<rect x="492.80" y="165.75" width="6.37" height="5.37" fill="#f0e833" stroke="none" stroke-width="0.8"/>
<rect x="500.47" y="165.75" width="6.37" height="5.37" fill="#f6d233" stroke="none" stroke-width="0.8"/>
<rect x="508.13" y="165.75" width="6.37" height="5.37" fill="#7ec251" stroke="none" stroke-width="0.8"/>
<text x="464.90" y="168.81" font-size="6.6" text-anchor="end" fill="#222" stroke="#222" >Mbl1</text>
<rect x="469.80" y="172.17" width="6.37" height="5.37" fill="#f6d233" stroke="none" stroke-width="0.8"/>
<rect x="477.47" y="172.17" width="6.37" height="5.37" fill="#a6d24a" stroke="none" stroke-width="0.8"/>
<rect x="485.13" y="172.17" width="6.37" height="5.37" fill="#f29c34" stroke="none" stroke-width="0.8"/>
<rect x="492.80" y="172.17" width="6.37" height="5.37" fill="#f6d233" stroke="none" stroke-width="0.8"/>
<rect x="500.47" y="172.17" width="6.37" height="5.37" fill="#f0e833" stroke="none" stroke-width="0.8"/>
<rect x="508.13" y="172.17" width="6.37" height="5.37" fill="#f0e833" stroke="none" stroke-width="0.8"/>
<text x="464.90" y="175.24" font-size="6.6" text-anchor="end" fill="#222" stroke="#222" >Mbl2</text>
<rect x="469.80" y="178.60" width="6.37" height="5.37" fill="#f29c34" stroke="none" stroke-width="0.8"/>
<rect x="477.47" y="178.60" width="6.37" height="5.37" fill="#f6d233" stroke="none" stroke-width="0.8"/>
<rect x="485.13" y="178.60" width="6.37" height="5.37" fill="#f29c34" stroke="none" stroke-width="0.8"/>
<rect x="492.80" y="178.60" width="6.37" height="5.37" fill="#f29c34" stroke="none" stroke-width="0.8"/>
<rect x="500.47" y="178.60" width="6.37" height="5.37" fill="#f29c34" stroke="none" stroke-width="0.8"/>
<rect x="508.13" y="178.60" width="6.37" height="5.37" fill="#f29c34" stroke="none" stroke-width="0.8"/>
<text x="464.90" y="181.66" font-size="6.6" text-anchor="end" fill="#222" stroke="#222" >Mrc1</text>
<rect x="469.80" y="185.02" width="6.37" height="5.37" fill="#66ba4f" stroke="none" stroke-width="0.8"/>
<rect x="477.47" y="185.02" width="6.37" height="5.37" fill="#66ba4f" stroke="none" stroke-width="0.8"/>
<rect x="485.13" y="185.02" width="6.37" height="5.37" fill="#66ba4f" stroke="none" stroke-width="0.8"/>
<rect x="492.80" y="185.02" width="6.37" height="5.37" fill="#66ba4f" stroke="none" stroke-width="0.8"/>
<rect x="500.47" y="185.02" width="6.37" height="5.37" fill="#66ba4f" stroke="none" stroke-width="0.8"/>
<rect x="508.13" y="185.02" width="6.37" height="5.37" fill="#66ba4f" stroke="none" stroke-width="0.8"/>
<text x="464.90" y="188.08" font-size="6.6" text-anchor="end" fill="#222" stroke="#222" >Mrc2</text>
<rect x="469.80" y="191.44" width="6.37" height="5.37" fill="#3aa350" stroke="none" stroke-width="0.8"/>
<rect x="477.47" y="191.44" width="6.37" height="5.37" fill="#3aa350" stroke="none" stroke-width="0.8"/>
<rect x="485.13" y="191.44" width="6.37" height="5.37" fill="#66ba4f" stroke="none" stroke-width="0.8"/>
<rect x="492.80" y="191.44" width="6.37" height="5.37" fill="#3aa350" stroke="none" stroke-width="0.8"/>
<rect x="500.47" y="191.44" width="6.37" height="5.37" fill="#3aa350" stroke="none" stroke-width="0.8"/>
<rect x="508.13" y="191.44" width="6.37" height="5.37" fill="#3aa350" stroke="none" stroke-width="0.8"/>
<text x="464.90" y="194.51" font-size="6.6" text-anchor="end" fill="#222" stroke="#222" >Ptx3</text>
<rect x="469.80" y="197.87" width="6.37" height="5.37" fill="#66ba4f" stroke="none" stroke-width="0.8"/>
<rect x="477.47" y="197.87" width="6.37" height="5.37" fill="#c8df44" stroke="none" stroke-width="0.8"/>
<rect x="485.13" y="197.87" width="6.37" height="5.37" fill="#66ba4f" stroke="none" stroke-width="0.8"/>
<rect x="492.80" y="197.87" width="6.37" height="5.37" fill="#f0e833" stroke="none" stroke-width="0.8"/>
<rect x="500.47" y="197.87" width="6.37" height="5.37" fill="#66ba4f" stroke="none" stroke-width="0.8"/>
<rect x="508.13" y="197.87" width="6.37" height="5.37" fill="#f0e833" stroke="none" stroke-width="0.8"/>
<text x="464.90" y="200.93" font-size="6.6" text-anchor="end" fill="#222" stroke="#222" >Scarb1 (CD36)</text>
<rect x="469.80" y="204.29" width="6.37" height="5.37" fill="#f0e833" stroke="none" stroke-width="0.8"/>
<rect x="477.47" y="204.29" width="6.37" height="5.37" fill="#f6d233" stroke="none" stroke-width="0.8"/>
<rect x="485.13" y="204.29" width="6.37" height="5.37" fill="#f29c34" stroke="none" stroke-width="0.8"/>
<rect x="492.80" y="204.29" width="6.37" height="5.37" fill="#f6d233" stroke="none" stroke-width="0.8"/>
<rect x="500.47" y="204.29" width="6.37" height="5.37" fill="#f6d233" stroke="none" stroke-width="0.8"/>
<rect x="508.13" y="204.29" width="6.37" height="5.37" fill="#f6d233" stroke="none" stroke-width="0.8"/>
<text x="464.90" y="207.35" font-size="6.6" text-anchor="end" fill="#222" stroke="#222" >Scarb2</text>
<rect x="469.80" y="210.71" width="6.37" height="5.37" fill="#f0e833" stroke="none" stroke-width="0.8"/>
<rect x="477.47" y="210.71" width="6.37" height="5.37" fill="#f0e833" stroke="none" stroke-width="0.8"/>
<rect x="485.13" y="210.71" width="6.37" height="5.37" fill="#f6d233" stroke="none" stroke-width="0.8"/>
<rect x="492.80" y="210.71" width="6.37" height="5.37" fill="#f0e833" stroke="none" stroke-width="0.8"/>
<rect x="500.47" y="210.71" width="6.37" height="5.37" fill="#f0e833" stroke="none" stroke-width="0.8"/>
<rect x="508.13" y="210.71" width="6.37" height="5.37" fill="#f0e833" stroke="none" stroke-width="0.8"/>
<text x="464.90" y="213.78" font-size="6.6" text-anchor="end" fill="#222" stroke="#222" >Trem1</text>
<rect x="469.80" y="217.14" width="6.37" height="5.37" fill="#f6d233" stroke="none" stroke-width="0.8"/>
<rect x="477.47" y="217.14" width="6.37" height="5.37" fill="#66ba4f" stroke="none" stroke-width="0.8"/>
<rect x="485.13" y="217.14" width="6.37" height="5.37" fill="#f08232" stroke="none" stroke-width="0.8"/>
<rect x="492.80" y="217.14" width="6.37" height="5.37" fill="#66ba4f" stroke="none" stroke-width="0.8"/>
<rect x="500.47" y="217.14" width="6.37" height="5.37" fill="#f29c34" stroke="none" stroke-width="0.8"/>
<rect x="508.13" y="217.14" width="6.37" height="5.37" fill="#66ba4f" stroke="none" stroke-width="0.8"/>
<text x="464.90" y="220.20" font-size="6.6" text-anchor="end" fill="#222" stroke="#222" >Clec2d</text>
<rect x="469.80" y="223.56" width="6.37" height="5.37" fill="#3aa350" stroke="none" stroke-width="0.8"/>
<rect x="477.47" y="223.56" width="6.37" height="5.37" fill="#3aa350" stroke="none" stroke-width="0.8"/>
<rect x="485.13" y="223.56" width="6.37" height="5.37" fill="#e6282e" stroke="none" stroke-width="0.8"/>
<rect x="492.80" y="223.56" width="6.37" height="5.37" fill="#f0602d" stroke="none" stroke-width="0.8"/>
<rect x="500.47" y="223.56" width="6.37" height="5.37" fill="#e6282e" stroke="none" stroke-width="0.8"/>
<rect x="508.13" y="223.56" width="6.37" height="5.37" fill="#f0602d" stroke="none" stroke-width="0.8"/>
<text x="464.90" y="226.62" font-size="6.6" text-anchor="end" fill="#222" stroke="#222" >Clec4e</text>
<rect x="469.80" y="229.99" width="6.37" height="5.37" fill="#f29c34" stroke="none" stroke-width="0.8"/>
<rect x="477.47" y="229.99" width="6.37" height="5.37" fill="#f6d233" stroke="none" stroke-width="0.8"/>
<rect x="485.13" y="229.99" width="6.37" height="5.37" fill="#f29c34" stroke="none" stroke-width="0.8"/>
<rect x="492.80" y="229.99" width="6.37" height="5.37" fill="#f5b737" stroke="none" stroke-width="0.8"/>
<rect x="500.47" y="229.99" width="6.37" height="5.37" fill="#f6d233" stroke="none" stroke-width="0.8"/>
<rect x="508.13" y="229.99" width="6.37" height="5.37" fill="#f5b737" stroke="none" stroke-width="0.8"/>
<text x="464.90" y="233.05" font-size="6.6" text-anchor="end" fill="#222" stroke="#222" >Clec7a (Dectin-1)</text>
<rect x="469.80" y="236.41" width="6.37" height="5.37" fill="#f0e833" stroke="none" stroke-width="0.8"/>
<rect x="477.47" y="236.41" width="6.37" height="5.37" fill="#f0e833" stroke="none" stroke-width="0.8"/>
<rect x="485.13" y="236.41" width="6.37" height="5.37" fill="#f29c34" stroke="none" stroke-width="0.8"/>
<rect x="492.80" y="236.41" width="6.37" height="5.37" fill="#f6d233" stroke="none" stroke-width="0.8"/>
<rect x="500.47" y="236.41" width="6.37" height="5.37" fill="#f29c34" stroke="none" stroke-width="0.8"/>
<rect x="508.13" y="236.41" width="6.37" height="5.37" fill="#f5b737" stroke="none" stroke-width="0.8"/>
<text x="464.90" y="239.47" font-size="6.6" text-anchor="end" fill="#222" stroke="#222" >Card15 (Nod2)</text>
<rect x="469.80" y="242.83" width="6.37" height="5.37" fill="#c8df44" stroke="none" stroke-width="0.8"/>
<rect x="477.47" y="242.83" width="6.37" height="5.37" fill="#66ba4f" stroke="none" stroke-width="0.8"/>
<rect x="485.13" y="242.83" width="6.37" height="5.37" fill="#f0602d" stroke="none" stroke-width="0.8"/>
<rect x="492.80" y="242.83" width="6.37" height="5.37" fill="#f0e833" stroke="none" stroke-width="0.8"/>
<rect x="500.47" y="242.83" width="6.37" height="5.37" fill="#f6d233" stroke="none" stroke-width="0.8"/>
<rect x="508.13" y="242.83" width="6.37" height="5.37" fill="#f6d233" stroke="none" stroke-width="0.8"/>
<text x="464.90" y="245.89" font-size="6.6" text-anchor="end" fill="#222" stroke="#222" >Card4 (Nod1)</text>
<rect x="469.80" y="249.26" width="6.37" height="5.37" fill="#f6d233" stroke="none" stroke-width="0.8"/>
<rect x="477.47" y="249.26" width="6.37" height="5.37" fill="#dde43a" stroke="none" stroke-width="0.8"/>
<rect x="485.13" y="249.26" width="6.37" height="5.37" fill="#e6282e" stroke="none" stroke-width="0.8"/>
<rect x="492.80" y="249.26" width="6.37" height="5.37" fill="#f29c34" stroke="none" stroke-width="0.8"/>
<rect x="500.47" y="249.26" width="6.37" height="5.37" fill="#e6282e" stroke="none" stroke-width="0.8"/>
<rect x="508.13" y="249.26" width="6.37" height="5.37" fill="#f29c34" stroke="none" stroke-width="0.8"/>
<text x="464.90" y="252.32" font-size="6.6" text-anchor="end" fill="#222" stroke="#222" >Nalp3 (Cias1)</text>
<rect x="469.80" y="255.68" width="6.37" height="5.37" fill="#f6d233" stroke="none" stroke-width="0.8"/>
<rect x="477.47" y="255.68" width="6.37" height="5.37" fill="#f0e833" stroke="none" stroke-width="0.8"/>
<rect x="485.13" y="255.68" width="6.37" height="5.37" fill="#f6d233" stroke="none" stroke-width="0.8"/>
<rect x="492.80" y="255.68" width="6.37" height="5.37" fill="#f6d233" stroke="none" stroke-width="0.8"/>
<rect x="500.47" y="255.68" width="6.37" height="5.37" fill="#f5b737" stroke="none" stroke-width="0.8"/>
<rect x="508.13" y="255.68" width="6.37" height="5.37" fill="#f6d233" stroke="none" stroke-width="0.8"/>
<text x="464.90" y="258.74" font-size="6.6" text-anchor="end" fill="#222" stroke="#222" >Card12 (IPAF)</text>
<rect x="469.80" y="262.10" width="6.37" height="5.37" fill="#f6d233" stroke="none" stroke-width="0.8"/>
<rect x="477.47" y="262.10" width="6.37" height="5.37" fill="#f0e833" stroke="none" stroke-width="0.8"/>
<rect x="485.13" y="262.10" width="6.37" height="5.37" fill="#e6282e" stroke="none" stroke-width="0.8"/>
<rect x="492.80" y="262.10" width="6.37" height="5.37" fill="#f08232" stroke="none" stroke-width="0.8"/>
<rect x="500.47" y="262.10" width="6.37" height="5.37" fill="#f0602d" stroke="none" stroke-width="0.8"/>
<rect x="508.13" y="262.10" width="6.37" height="5.37" fill="#f6d233" stroke="none" stroke-width="0.8"/>
<text x="464.90" y="265.16" font-size="6.6" text-anchor="end" fill="#222" stroke="#222" >Ifih1 (MDA-5)</text>
<rect x="469.80" y="268.53" width="6.37" height="5.37" fill="#f0e833" stroke="none" stroke-width="0.8"/>
<rect x="477.47" y="268.53" width="6.37" height="5.37" fill="#f0e833" stroke="none" stroke-width="0.8"/>
<rect x="485.13" y="268.53" width="6.37" height="5.37" fill="#e6282e" stroke="none" stroke-width="0.8"/>
<rect x="492.80" y="268.53" width="6.37" height="5.37" fill="#e6282e" stroke="none" stroke-width="0.8"/>
<rect x="500.47" y="268.53" width="6.37" height="5.37" fill="#f0602d" stroke="none" stroke-width="0.8"/>
<rect x="508.13" y="268.53" width="6.37" height="5.37" fill="#e6282e" stroke="none" stroke-width="0.8"/>
<text x="464.90" y="271.59" font-size="6.6" text-anchor="end" fill="#222" stroke="#222" >Ifit2 (ISG-54)</text>
<text x="0" y="0" font-size="6.6" fill="#222" transform="translate(476.60,50.0) rotate(-90)">Medium</text>
<text x="0" y="0" font-size="6.6" fill="#222" transform="translate(484.20,50.0) rotate(-90)">TSA</text>
<text x="0" y="0" font-size="6.6" fill="#222" transform="translate(490.10,50.0) rotate(-90)">LPS</text>
<text x="0" y="0" font-size="6.6" fill="#222" transform="translate(499.60,50.0) rotate(-90)">LPS+TSA</text>
<text x="0" y="0" font-size="6.6" fill="#222" transform="translate(506.20,50.0) rotate(-90)">Pam<tspan font-size="65%" dy="1.2">3</tspan><tspan dy="-1.2">CSK</tspan><tspan font-size="65%" dy="1.2">4</tspan><tspan dy="-1.2"></tspan></text>
<text x="0" y="0" font-size="6.6" fill="#222" transform="translate(513.20,50.0) rotate(-90)">Pam<tspan font-size="65%" dy="1.2">3</tspan><tspan dy="-1.2">CSK</tspan><tspan font-size="65%" dy="1.2">4</tspan><tspan dy="-1.2">+TSA</tspan></text>
<defs><linearGradient id="cb" x1="0" x2="1" y1="0" y2="0"><stop offset="0" stop-color="#c8141e"/><stop offset="0.15" stop-color="#e3262a"/><stop offset="0.33" stop-color="#f3902c"/><stop offset="0.47" stop-color="#f6e52a"/><stop offset="0.6" stop-color="#bcd843"/><stop offset="0.8" stop-color="#4caf50"/><stop offset="1" stop-color="#11703c"/></linearGradient></defs>
<rect x="453.4" y="283" width="63.2" height="3.2" fill="url(#cb)"/>
<text x="455.00" y="292.80" font-size="6.6" text-anchor="middle" fill="#222" stroke="#222" >20</text>
<text x="473.50" y="292.80" font-size="6.6" text-anchor="middle" fill="#222" stroke="#222" >5</text>
<text x="486.90" y="292.80" font-size="6.6" text-anchor="middle" fill="#222" stroke="#222" >1</text>
<text x="515.40" y="292.80" font-size="6.6" text-anchor="middle" fill="#222" stroke="#222" >0</text>
<line x1="111.50" y1="336.10" x2="111.50" y2="424.50" stroke="#1a1a1a" stroke-width="0.9" />
<line x1="111.50" y1="424.50" x2="222.00" y2="424.50" stroke="#1a1a1a" stroke-width="0.9" />
<line x1="109.70" y1="424.50" x2="111.50" y2="424.50" stroke="#1a1a1a" stroke-width="0.8" />
<text x="109.10" y="427.90" font-size="7.8" text-anchor="end" fill="#222" stroke="#222" >0</text>
<line x1="109.70" y1="402.40" x2="111.50" y2="402.40" stroke="#1a1a1a" stroke-width="0.8" />
<text x="109.10" y="405.80" font-size="7.8" text-anchor="end" fill="#222" stroke="#222" >10</text>
<line x1="109.70" y1="380.30" x2="111.50" y2="380.30" stroke="#1a1a1a" stroke-width="0.8" />
<text x="109.10" y="383.70" font-size="7.8" text-anchor="end" fill="#222" stroke="#222" >20</text>
<line x1="109.70" y1="358.20" x2="111.50" y2="358.20" stroke="#1a1a1a" stroke-width="0.8" />
<text x="109.10" y="361.60" font-size="7.8" text-anchor="end" fill="#222" stroke="#222" >30</text>
<line x1="109.70" y1="336.10" x2="111.50" y2="336.10" stroke="#1a1a1a" stroke-width="0.8" />
<text x="109.10" y="339.50" font-size="7.8" text-anchor="end" fill="#222" stroke="#222" >40</text>
<rect x="114.50" y="422.29" width="5.25" height="2.21" fill="#3cbc58" stroke="#111" stroke-width="0.7"/>
<rect x="119.75" y="420.08" width="5.25" height="4.42" fill="#fff" stroke="#111" stroke-width="0.7"/>
<rect x="125.00" y="382.51" width="5.25" height="41.99" fill="#ea2333" stroke="#111" stroke-width="0.7"/>
<rect x="141.55" y="420.08" width="5.25" height="4.42" fill="#fff" stroke="#111" stroke-width="0.7"/>
<rect x="146.80" y="411.24" width="5.25" height="13.26" fill="#ea2333" stroke="#111" stroke-width="0.7"/>
<rect x="158.30" y="411.24" width="5.25" height="13.26" fill="#3cbc58" stroke="#111" stroke-width="0.7"/>
<rect x="163.55" y="400.19" width="5.25" height="24.31" fill="#fff" stroke="#111" stroke-width="0.7"/>
<rect x="168.80" y="382.51" width="5.25" height="41.99" fill="#ea2333" stroke="#111" stroke-width="0.7"/>
<rect x="180.30" y="417.87" width="5.25" height="6.63" fill="#3cbc58" stroke="#111" stroke-width="0.7"/>
<rect x="185.55" y="369.25" width="5.25" height="55.25" fill="#fff" stroke="#111" stroke-width="0.7"/>
<rect x="190.80" y="338.31" width="5.25" height="86.19" fill="#ea2333" stroke="#111" stroke-width="0.7"/>
<rect x="202.20" y="422.29" width="5.25" height="2.21" fill="#3cbc58" stroke="#111" stroke-width="0.7"/>
<rect x="207.45" y="400.19" width="5.25" height="24.31" fill="#fff" stroke="#111" stroke-width="0.7"/>
<rect x="212.70" y="384.72" width="5.25" height="39.78" fill="#ea2333" stroke="#111" stroke-width="0.7"/>
<text x="0" y="0" font-size="8.3" text-anchor="middle" fill="#222" transform="translate(88.2,383.8) rotate(-90)">Number of genes</text>
<text x="151" y="347.30" font-size="8.6" text-anchor="middle" fill="#222">LPS</text>
<text x="151" y="357.30" font-size="8.6" text-anchor="middle" fill="#222">Induced genes</text>
<line x1="111.50" y1="437.60" x2="111.50" y2="525.50" stroke="#1a1a1a" stroke-width="0.9" />
<line x1="111.50" y1="525.50" x2="222.00" y2="525.50" stroke="#1a1a1a" stroke-width="0.9" />
<line x1="109.70" y1="525.50" x2="111.50" y2="525.50" stroke="#1a1a1a" stroke-width="0.8" />
<text x="109.10" y="528.90" font-size="7.8" text-anchor="end" fill="#222" stroke="#222" >0</text>
<line x1="109.70" y1="510.85" x2="111.50" y2="510.85" stroke="#1a1a1a" stroke-width="0.8" />
<text x="109.10" y="514.25" font-size="7.8" text-anchor="end" fill="#222" stroke="#222" >10</text>
<line x1="109.70" y1="496.20" x2="111.50" y2="496.20" stroke="#1a1a1a" stroke-width="0.8" />
<text x="109.10" y="499.60" font-size="7.8" text-anchor="end" fill="#222" stroke="#222" >20</text>
<line x1="109.70" y1="481.55" x2="111.50" y2="481.55" stroke="#1a1a1a" stroke-width="0.8" />
<text x="109.10" y="484.95" font-size="7.8" text-anchor="end" fill="#222" stroke="#222" >30</text>
<line x1="109.70" y1="466.90" x2="111.50" y2="466.90" stroke="#1a1a1a" stroke-width="0.8" />
<text x="109.10" y="470.30" font-size="7.8" text-anchor="end" fill="#222" stroke="#222" >40</text>
<line x1="109.70" y1="452.25" x2="111.50" y2="452.25" stroke="#1a1a1a" stroke-width="0.8" />
<text x="109.10" y="455.65" font-size="7.8" text-anchor="end" fill="#222" stroke="#222" >50</text>
<line x1="109.70" y1="437.60" x2="111.50" y2="437.60" stroke="#1a1a1a" stroke-width="0.8" />
<text x="109.10" y="441.00" font-size="7.8" text-anchor="end" fill="#222" stroke="#222" >60</text>
<rect x="114.50" y="524.03" width="5.25" height="1.46" fill="#3cbc58" stroke="#111" stroke-width="0.7"/>
<rect x="119.75" y="516.71" width="5.25" height="8.79" fill="#fff" stroke="#111" stroke-width="0.7"/>
<rect x="125.00" y="483.01" width="5.25" height="42.48" fill="#ea2333" stroke="#111" stroke-width="0.7"/>
<rect x="136.30" y="524.03" width="5.25" height="1.46" fill="#3cbc58" stroke="#111" stroke-width="0.7"/>
<rect x="141.55" y="521.11" width="5.25" height="4.39" fill="#fff" stroke="#111" stroke-width="0.7"/>
<rect x="146.80" y="513.78" width="5.25" height="11.72" fill="#ea2333" stroke="#111" stroke-width="0.7"/>
<rect x="158.30" y="519.64" width="5.25" height="5.86" fill="#3cbc58" stroke="#111" stroke-width="0.7"/>
<rect x="163.55" y="506.45" width="5.25" height="19.04" fill="#fff" stroke="#111" stroke-width="0.7"/>
<rect x="168.80" y="475.69" width="5.25" height="49.81" fill="#ea2333" stroke="#111" stroke-width="0.7"/>
<rect x="180.30" y="515.25" width="5.25" height="10.25" fill="#3cbc58" stroke="#111" stroke-width="0.7"/>
<rect x="185.55" y="472.76" width="5.25" height="52.74" fill="#fff" stroke="#111" stroke-width="0.7"/>
<rect x="190.80" y="444.93" width="5.25" height="80.57" fill="#ea2333" stroke="#111" stroke-width="0.7"/>
<rect x="202.20" y="524.03" width="5.25" height="1.46" fill="#3cbc58" stroke="#111" stroke-width="0.7"/>
<rect x="207.45" y="499.13" width="5.25" height="26.37" fill="#fff" stroke="#111" stroke-width="0.7"/>
<rect x="212.70" y="503.52" width="5.25" height="21.97" fill="#ea2333" stroke="#111" stroke-width="0.7"/>
<text x="0" y="0" font-size="8.3" text-anchor="middle" fill="#222" transform="translate(88.2,484.3) rotate(-90)">Number of genes</text>
<text x="151" y="448.00" font-size="8.6" text-anchor="middle" fill="#222">Pam<tspan font-size="65%" dy="1.6">3</tspan><tspan dy="-1.6">CSK</tspan><tspan font-size="65%" dy="1.6">4</tspan><tspan dy="-1.6"></tspan></text>
<text x="151" y="458.00" font-size="8.6" text-anchor="middle" fill="#222">Induced genes</text>
<text x="0" y="0" font-size="8.2" text-anchor="end" fill="#222" transform="translate(125.70,531.20) rotate(-48)">Microbial sensing &amp;</text>
<text x="0" y="0" font-size="8.2" text-anchor="end" fill="#222" transform="translate(131.94,536.82) rotate(-48)">killing</text>
<text x="0" y="0" font-size="8.2" text-anchor="end" fill="#222" transform="translate(150.00,530.40) rotate(-48)">Adhesion</text>
<text x="0" y="0" font-size="8.2" text-anchor="end" fill="#222" transform="translate(168.40,530.40) rotate(-48)">Cytokine, growth</text>
<text x="0" y="0" font-size="8.2" text-anchor="end" fill="#222" transform="translate(174.64,536.02) rotate(-48)">factor &amp; receptors</text>
<text x="0" y="0" font-size="8.2" text-anchor="end" fill="#222" transform="translate(194.30,530.90) rotate(-48)">Signaling</text>
<text x="0" y="0" font-size="8.2" text-anchor="end" fill="#222" transform="translate(217.40,530.40) rotate(-48)">Antigen processing &amp;</text>
<text x="0" y="0" font-size="8.2" text-anchor="end" fill="#222" transform="translate(223.64,536.02) rotate(-48)">presentation</text>
<circle cx="271.1" cy="328.3" r="3" fill="#1d7f47" stroke="#0b4a28" stroke-width="0.7"/>
<text x="275.00" y="331.20" font-size="8.4" text-anchor="start" fill="#222" stroke="#222" >LPS</text>
<circle cx="301.2" cy="328.3" r="3" fill="#d82a46" stroke="#6a0818" stroke-width="0.7"/>
<text x="305.20" y="331.20" font-size="8.4" text-anchor="start" fill="#222" stroke="#222" >LPS + TSA</text>
<rect x="349.70" y="325.60" width="5.60" height="5.60" fill="#1d7f47" stroke="#0b4a28" stroke-width="0.6"/>
<text x="357.2" y="331.2" font-size="8.4" fill="#222">Pam<tspan font-size="65%" dy="1.5">3</tspan><tspan dy="-1.5">CSK</tspan><tspan font-size="65%" dy="1.5">4</tspan><tspan dy="-1.5"></tspan></text>
<rect x="400.50" y="325.60" width="5.60" height="5.60" fill="#d82a46" stroke="#6a0818" stroke-width="0.6"/>
<text x="408.2" y="331.2" font-size="8.4" fill="#222">Pam<tspan font-size="65%" dy="1.5">3</tspan><tspan dy="-1.5">CSK</tspan><tspan font-size="65%" dy="1.5">4</tspan><tspan dy="-1.5"> + TSA</tspan></text>
<text x="0" y="0" font-size="8.6" text-anchor="middle" fill="#222" transform="translate(237,433.5) rotate(-90)">copies/gapdh x 1000</text>
<line x1="255.50" y1="345.20" x2="255.50" y2="391.50" stroke="#333" stroke-width="0.9" />
<line x1="255.50" y1="391.50" x2="323.00" y2="391.50" stroke="#333" stroke-width="0.9" />
<line x1="253.70" y1="391.50" x2="255.50" y2="391.50" stroke="#333" stroke-width="0.7" />
<text x="253.10" y="393.40" font-size="5.5" text-anchor="end" fill="#222" stroke="#222" >0</text>
<line x1="253.70" y1="368.35" x2="255.50" y2="368.35" stroke="#333" stroke-width="0.7" />
<text x="253.10" y="370.25" font-size="5.5" text-anchor="end" fill="#222" stroke="#222" >40</text>
<line x1="253.70" y1="345.20" x2="255.50" y2="345.20" stroke="#333" stroke-width="0.7" />
<text x="253.10" y="347.10" font-size="5.5" text-anchor="end" fill="#222" stroke="#222" >80</text>
<line x1="255.50" y1="391.50" x2="255.50" y2="393.10" stroke="#333" stroke-width="0.7" />
<line x1="276.54" y1="391.50" x2="276.54" y2="393.10" stroke="#333" stroke-width="0.7" />
<line x1="297.58" y1="391.50" x2="297.58" y2="393.10" stroke="#333" stroke-width="0.7" />
<line x1="318.62" y1="391.50" x2="318.62" y2="393.10" stroke="#333" stroke-width="0.7" />
<text x="296.70" y="351.20" font-size="8.2" text-anchor="middle" font-weight="bold" fill="#111" stroke="#111" >Tlr1</text>
<polyline points="255.50,386.87 258.20,385.71 260.80,374.14 266.20,352.14 276.80,351.57 319.50,353.30" fill="none" stroke="#222" stroke-width="0.95"/>
<polyline points="255.50,386.87 258.20,385.71 260.80,384.56 266.20,372.40 276.80,369.51 319.50,381.08" fill="none" stroke="#222" stroke-width="0.95"/>
<polyline points="255.50,388.61 258.20,390.34 260.80,390.34 266.20,389.76 276.80,389.76 319.50,389.47" fill="none" stroke="#222" stroke-width="0.95"/>
<polyline points="255.50,386.87 258.20,389.19 260.80,389.76 266.20,389.19 276.80,389.19 319.50,386.87" fill="none" stroke="#222" stroke-width="0.95"/>
<rect x="253.60" y="384.97" width="3.8" height="3.8" fill="#1c9556" stroke="#0b4a2a" stroke-width="0.6"/>
<rect x="256.30" y="383.81" width="3.8" height="3.8" fill="#1c9556" stroke="#0b4a2a" stroke-width="0.6"/>
<rect x="258.90" y="382.66" width="3.8" height="3.8" fill="#1c9556" stroke="#0b4a2a" stroke-width="0.6"/>
<rect x="264.30" y="370.50" width="3.8" height="3.8" fill="#1c9556" stroke="#0b4a2a" stroke-width="0.6"/>
<rect x="274.90" y="367.61" width="3.8" height="3.8" fill="#1c9556" stroke="#0b4a2a" stroke-width="0.6"/>
<rect x="317.60" y="379.18" width="3.8" height="3.8" fill="#1c9556" stroke="#0b4a2a" stroke-width="0.6"/>
<circle cx="255.50" cy="386.87" r="1.9" fill="#1e7a48" stroke="#0b4a2a" stroke-width="0.6"/>
<circle cx="258.20" cy="385.71" r="1.9" fill="#1e7a48" stroke="#0b4a2a" stroke-width="0.6"/>
<circle cx="260.80" cy="374.14" r="1.9" fill="#1e7a48" stroke="#0b4a2a" stroke-width="0.6"/>
<circle cx="266.20" cy="352.14" r="1.9" fill="#1e7a48" stroke="#0b4a2a" stroke-width="0.6"/>
<circle cx="276.80" cy="351.57" r="1.9" fill="#1e7a48" stroke="#0b4a2a" stroke-width="0.6"/>
<circle cx="319.50" cy="353.30" r="1.9" fill="#1e7a48" stroke="#0b4a2a" stroke-width="0.6"/>
<rect x="253.60" y="384.97" width="3.8" height="3.8" fill="#d82a46" stroke="#6a0818" stroke-width="0.6"/>
<rect x="256.30" y="387.29" width="3.8" height="3.8" fill="#d82a46" stroke="#6a0818" stroke-width="0.6"/>
<rect x="258.90" y="387.86" width="3.8" height="3.8" fill="#d82a46" stroke="#6a0818" stroke-width="0.6"/>
<rect x="264.30" y="387.29" width="3.8" height="3.8" fill="#d82a46" stroke="#6a0818" stroke-width="0.6"/>
<rect x="274.90" y="387.29" width="3.8" height="3.8" fill="#d82a46" stroke="#6a0818" stroke-width="0.6"/>
<rect x="317.60" y="384.97" width="3.8" height="3.8" fill="#d82a46" stroke="#6a0818" stroke-width="0.6"/>
<circle cx="255.50" cy="388.61" r="1.9" fill="#d82a46" stroke="#6a0818" stroke-width="0.6"/>
<circle cx="258.20" cy="390.34" r="1.9" fill="#d82a46" stroke="#6a0818" stroke-width="0.6"/>
<circle cx="260.80" cy="390.34" r="1.9" fill="#d82a46" stroke="#6a0818" stroke-width="0.6"/>
<circle cx="266.20" cy="389.76" r="1.9" fill="#d82a46" stroke="#6a0818" stroke-width="0.6"/>
<circle cx="276.80" cy="389.76" r="1.9" fill="#d82a46" stroke="#6a0818" stroke-width="0.6"/>
<circle cx="319.50" cy="389.47" r="1.9" fill="#d82a46" stroke="#6a0818" stroke-width="0.6"/>
<line x1="338.50" y1="345.20" x2="338.50" y2="391.50" stroke="#333" stroke-width="0.9" />
<line x1="338.50" y1="391.50" x2="406.00" y2="391.50" stroke="#333" stroke-width="0.9" />
<line x1="336.70" y1="391.50" x2="338.50" y2="391.50" stroke="#333" stroke-width="0.7" />
<text x="336.10" y="393.40" font-size="5.5" text-anchor="end" fill="#222" stroke="#222" >0</text>
<line x1="336.70" y1="368.35" x2="338.50" y2="368.35" stroke="#333" stroke-width="0.7" />
<text x="336.10" y="370.25" font-size="5.5" text-anchor="end" fill="#222" stroke="#222" >1</text>
<line x1="336.70" y1="345.20" x2="338.50" y2="345.20" stroke="#333" stroke-width="0.7" />
<text x="336.10" y="347.10" font-size="5.5" text-anchor="end" fill="#222" stroke="#222" >2</text>
<line x1="338.50" y1="391.50" x2="338.50" y2="393.10" stroke="#333" stroke-width="0.7" />
<line x1="359.54" y1="391.50" x2="359.54" y2="393.10" stroke="#333" stroke-width="0.7" />
<line x1="380.58" y1="391.50" x2="380.58" y2="393.10" stroke="#333" stroke-width="0.7" />
<line x1="401.62" y1="391.50" x2="401.62" y2="393.10" stroke="#333" stroke-width="0.7" />
<text x="376.90" y="351.20" font-size="8.2" text-anchor="middle" font-weight="bold" fill="#111" stroke="#111" >Tlr5</text>
<polyline points="338.50,349.83 341.20,359.09 343.80,379.93 349.20,389.19 359.80,391.04 402.50,381.08" fill="none" stroke="#222" stroke-width="0.95"/>
<polyline points="338.50,377.61 341.20,379.93 343.80,384.56 349.20,390.34 359.80,391.04 402.50,391.04" fill="none" stroke="#222" stroke-width="0.95"/>
<polyline points="338.50,349.83 341.20,389.19 343.80,383.40 349.20,383.40 359.80,381.78 402.50,386.87" fill="none" stroke="#222" stroke-width="0.95"/>
<polyline points="338.50,349.83 341.20,375.30 343.80,378.77 349.20,384.56 359.80,386.87 402.50,388.03" fill="none" stroke="#222" stroke-width="0.95"/>
<rect x="336.60" y="375.71" width="3.8" height="3.8" fill="#1c9556" stroke="#0b4a2a" stroke-width="0.6"/>
<rect x="339.30" y="378.03" width="3.8" height="3.8" fill="#1c9556" stroke="#0b4a2a" stroke-width="0.6"/>
<rect x="341.90" y="382.66" width="3.8" height="3.8" fill="#1c9556" stroke="#0b4a2a" stroke-width="0.6"/>
<rect x="347.30" y="388.44" width="3.8" height="3.8" fill="#1c9556" stroke="#0b4a2a" stroke-width="0.6"/>
<rect x="357.90" y="389.14" width="3.8" height="3.8" fill="#1c9556" stroke="#0b4a2a" stroke-width="0.6"/>
<rect x="400.60" y="389.14" width="3.8" height="3.8" fill="#1c9556" stroke="#0b4a2a" stroke-width="0.6"/>
<circle cx="338.50" cy="349.83" r="1.9" fill="#1e7a48" stroke="#0b4a2a" stroke-width="0.6"/>
<circle cx="341.20" cy="359.09" r="1.9" fill="#1e7a48" stroke="#0b4a2a" stroke-width="0.6"/>
<circle cx="343.80" cy="379.93" r="1.9" fill="#1e7a48" stroke="#0b4a2a" stroke-width="0.6"/>
<circle cx="349.20" cy="389.19" r="1.9" fill="#1e7a48" stroke="#0b4a2a" stroke-width="0.6"/>
<circle cx="359.80" cy="391.04" r="1.9" fill="#1e7a48" stroke="#0b4a2a" stroke-width="0.6"/>
<circle cx="402.50" cy="381.08" r="1.9" fill="#1e7a48" stroke="#0b4a2a" stroke-width="0.6"/>
<rect x="336.60" y="347.93" width="3.8" height="3.8" fill="#d82a46" stroke="#6a0818" stroke-width="0.6"/>
<rect x="339.30" y="373.40" width="3.8" height="3.8" fill="#d82a46" stroke="#6a0818" stroke-width="0.6"/>
<rect x="341.90" y="376.87" width="3.8" height="3.8" fill="#d82a46" stroke="#6a0818" stroke-width="0.6"/>
<rect x="347.30" y="382.66" width="3.8" height="3.8" fill="#d82a46" stroke="#6a0818" stroke-width="0.6"/>
<rect x="357.90" y="384.97" width="3.8" height="3.8" fill="#d82a46" stroke="#6a0818" stroke-width="0.6"/>
<rect x="400.60" y="386.13" width="3.8" height="3.8" fill="#d82a46" stroke="#6a0818" stroke-width="0.6"/>
<circle cx="338.50" cy="349.83" r="1.9" fill="#d82a46" stroke="#6a0818" stroke-width="0.6"/>
<circle cx="341.20" cy="389.19" r="1.9" fill="#d82a46" stroke="#6a0818" stroke-width="0.6"/>
<circle cx="343.80" cy="383.40" r="1.9" fill="#d82a46" stroke="#6a0818" stroke-width="0.6"/>
<circle cx="349.20" cy="383.40" r="1.9" fill="#d82a46" stroke="#6a0818" stroke-width="0.6"/>
<circle cx="359.80" cy="381.78" r="1.9" fill="#d82a46" stroke="#6a0818" stroke-width="0.6"/>
<circle cx="402.50" cy="386.87" r="1.9" fill="#d82a46" stroke="#6a0818" stroke-width="0.6"/>
<line x1="424.50" y1="345.20" x2="424.50" y2="391.50" stroke="#333" stroke-width="0.9" />
<line x1="424.50" y1="391.50" x2="492.00" y2="391.50" stroke="#333" stroke-width="0.9" />
<line x1="422.70" y1="391.50" x2="424.50" y2="391.50" stroke="#333" stroke-width="0.7" />
<text x="422.10" y="393.40" font-size="5.5" text-anchor="end" fill="#222" stroke="#222" >0</text>
<line x1="422.70" y1="368.35" x2="424.50" y2="368.35" stroke="#333" stroke-width="0.7" />
<text x="422.10" y="370.25" font-size="5.5" text-anchor="end" fill="#222" stroke="#222" >12</text>
<line x1="422.70" y1="345.20" x2="424.50" y2="345.20" stroke="#333" stroke-width="0.7" />
<text x="422.10" y="347.10" font-size="5.5" text-anchor="end" fill="#222" stroke="#222" >24</text>
<line x1="424.50" y1="391.50" x2="424.50" y2="393.10" stroke="#333" stroke-width="0.7" />
<line x1="445.54" y1="391.50" x2="445.54" y2="393.10" stroke="#333" stroke-width="0.7" />
<line x1="466.58" y1="391.50" x2="466.58" y2="393.10" stroke="#333" stroke-width="0.7" />
<line x1="487.62" y1="391.50" x2="487.62" y2="393.10" stroke="#333" stroke-width="0.7" />
<text x="459.40" y="350.40" font-size="8.2" text-anchor="middle" font-weight="bold" fill="#111" stroke="#111" >Tlr9</text>
<polyline points="424.50,385.71 427.20,381.85 429.80,383.78 435.20,381.85 445.80,364.49 488.50,345.20" fill="none" stroke="#222" stroke-width="0.95"/>
<polyline points="424.50,385.71 427.20,381.85 429.80,371.24 435.20,368.93 445.80,389.57 488.50,389.57" fill="none" stroke="#222" stroke-width="0.95"/>
<polyline points="424.50,390.54 427.20,383.78 429.80,385.71 435.20,387.64 445.80,385.71 488.50,389.57" fill="none" stroke="#222" stroke-width="0.95"/>
<polyline points="424.50,390.92 427.20,383.78 429.80,387.64 435.20,385.71 445.80,385.71 488.50,389.19" fill="none" stroke="#222" stroke-width="0.95"/>
<rect x="422.60" y="383.81" width="3.8" height="3.8" fill="#1c9556" stroke="#0b4a2a" stroke-width="0.6"/>
<rect x="425.30" y="379.95" width="3.8" height="3.8" fill="#1c9556" stroke="#0b4a2a" stroke-width="0.6"/>
<rect x="427.90" y="369.34" width="3.8" height="3.8" fill="#1c9556" stroke="#0b4a2a" stroke-width="0.6"/>
<rect x="433.30" y="367.03" width="3.8" height="3.8" fill="#1c9556" stroke="#0b4a2a" stroke-width="0.6"/>
<rect x="443.90" y="387.67" width="3.8" height="3.8" fill="#1c9556" stroke="#0b4a2a" stroke-width="0.6"/>
<rect x="486.60" y="387.67" width="3.8" height="3.8" fill="#1c9556" stroke="#0b4a2a" stroke-width="0.6"/>
<circle cx="424.50" cy="385.71" r="1.9" fill="#1e7a48" stroke="#0b4a2a" stroke-width="0.6"/>
<circle cx="427.20" cy="381.85" r="1.9" fill="#1e7a48" stroke="#0b4a2a" stroke-width="0.6"/>
<circle cx="429.80" cy="383.78" r="1.9" fill="#1e7a48" stroke="#0b4a2a" stroke-width="0.6"/>
<circle cx="435.20" cy="381.85" r="1.9" fill="#1e7a48" stroke="#0b4a2a" stroke-width="0.6"/>
<circle cx="445.80" cy="364.49" r="1.9" fill="#1e7a48" stroke="#0b4a2a" stroke-width="0.6"/>
<circle cx="488.50" cy="345.20" r="1.9" fill="#1e7a48" stroke="#0b4a2a" stroke-width="0.6"/>
<rect x="422.60" y="389.02" width="3.8" height="3.8" fill="#d82a46" stroke="#6a0818" stroke-width="0.6"/>
<rect x="425.30" y="381.88" width="3.8" height="3.8" fill="#d82a46" stroke="#6a0818" stroke-width="0.6"/>
<rect x="427.90" y="385.74" width="3.8" height="3.8" fill="#d82a46" stroke="#6a0818" stroke-width="0.6"/>
<rect x="433.30" y="383.81" width="3.8" height="3.8" fill="#d82a46" stroke="#6a0818" stroke-width="0.6"/>
<rect x="443.90" y="383.81" width="3.8" height="3.8" fill="#d82a46" stroke="#6a0818" stroke-width="0.6"/>
<rect x="486.60" y="387.29" width="3.8" height="3.8" fill="#d82a46" stroke="#6a0818" stroke-width="0.6"/>
<circle cx="424.50" cy="390.54" r="1.9" fill="#d82a46" stroke="#6a0818" stroke-width="0.6"/>
<circle cx="427.20" cy="383.78" r="1.9" fill="#d82a46" stroke="#6a0818" stroke-width="0.6"/>
<circle cx="429.80" cy="385.71" r="1.9" fill="#d82a46" stroke="#6a0818" stroke-width="0.6"/>
<circle cx="435.20" cy="387.64" r="1.9" fill="#d82a46" stroke="#6a0818" stroke-width="0.6"/>
<circle cx="445.80" cy="385.71" r="1.9" fill="#d82a46" stroke="#6a0818" stroke-width="0.6"/>
<circle cx="488.50" cy="389.57" r="1.9" fill="#d82a46" stroke="#6a0818" stroke-width="0.6"/>
<line x1="255.50" y1="397.80" x2="255.50" y2="442.50" stroke="#333" stroke-width="0.9" />
<line x1="255.50" y1="442.50" x2="323.00" y2="442.50" stroke="#333" stroke-width="0.9" />
<line x1="253.70" y1="442.50" x2="255.50" y2="442.50" stroke="#333" stroke-width="0.7" />
<text x="253.10" y="444.40" font-size="5.5" text-anchor="end" fill="#222" stroke="#222" >0</text>
<line x1="253.70" y1="420.15" x2="255.50" y2="420.15" stroke="#333" stroke-width="0.7" />
<text x="253.10" y="422.05" font-size="5.5" text-anchor="end" fill="#222" stroke="#222" >75</text>
<line x1="253.70" y1="397.80" x2="255.50" y2="397.80" stroke="#333" stroke-width="0.7" />
<text x="253.10" y="399.70" font-size="5.5" text-anchor="end" fill="#222" stroke="#222" >150</text>
<line x1="255.50" y1="442.50" x2="255.50" y2="444.10" stroke="#333" stroke-width="0.7" />
<line x1="276.54" y1="442.50" x2="276.54" y2="444.10" stroke="#333" stroke-width="0.7" />
<line x1="297.58" y1="442.50" x2="297.58" y2="444.10" stroke="#333" stroke-width="0.7" />
<line x1="318.62" y1="442.50" x2="318.62" y2="444.10" stroke="#333" stroke-width="0.7" />
<text x="296.70" y="411.60" font-size="8.2" text-anchor="middle" font-weight="bold" fill="#111" stroke="#111" >Tlr2</text>
<polyline points="255.50,436.54 258.20,432.07 260.80,405.85 266.20,405.25 276.80,432.96 319.50,436.54" fill="none" stroke="#222" stroke-width="0.95"/>
<polyline points="255.50,436.54 258.20,432.07 260.80,432.07 266.20,414.19 276.80,429.09 319.50,437.14" fill="none" stroke="#222" stroke-width="0.95"/>
<polyline points="255.50,439.52 258.20,441.01 260.80,440.12 266.20,438.92 276.80,438.92 319.50,426.41" fill="none" stroke="#222" stroke-width="0.95"/>
<polyline points="255.50,438.03 258.20,440.12 260.80,439.52 266.20,439.52 276.80,439.52 319.50,441.01" fill="none" stroke="#222" stroke-width="0.95"/>
<rect x="253.60" y="434.64" width="3.8" height="3.8" fill="#1c9556" stroke="#0b4a2a" stroke-width="0.6"/>
<rect x="256.30" y="430.17" width="3.8" height="3.8" fill="#1c9556" stroke="#0b4a2a" stroke-width="0.6"/>
<rect x="258.90" y="430.17" width="3.8" height="3.8" fill="#1c9556" stroke="#0b4a2a" stroke-width="0.6"/>
<rect x="264.30" y="412.29" width="3.8" height="3.8" fill="#1c9556" stroke="#0b4a2a" stroke-width="0.6"/>
<rect x="274.90" y="427.19" width="3.8" height="3.8" fill="#1c9556" stroke="#0b4a2a" stroke-width="0.6"/>
<rect x="317.60" y="435.24" width="3.8" height="3.8" fill="#1c9556" stroke="#0b4a2a" stroke-width="0.6"/>
<circle cx="255.50" cy="436.54" r="1.9" fill="#1e7a48" stroke="#0b4a2a" stroke-width="0.6"/>
<circle cx="258.20" cy="432.07" r="1.9" fill="#1e7a48" stroke="#0b4a2a" stroke-width="0.6"/>
<circle cx="260.80" cy="405.85" r="1.9" fill="#1e7a48" stroke="#0b4a2a" stroke-width="0.6"/>
<circle cx="266.20" cy="405.25" r="1.9" fill="#1e7a48" stroke="#0b4a2a" stroke-width="0.6"/>
<circle cx="276.80" cy="432.96" r="1.9" fill="#1e7a48" stroke="#0b4a2a" stroke-width="0.6"/>
<circle cx="319.50" cy="436.54" r="1.9" fill="#1e7a48" stroke="#0b4a2a" stroke-width="0.6"/>
<rect x="253.60" y="436.13" width="3.8" height="3.8" fill="#d82a46" stroke="#6a0818" stroke-width="0.6"/>
<rect x="256.30" y="438.22" width="3.8" height="3.8" fill="#d82a46" stroke="#6a0818" stroke-width="0.6"/>
<rect x="258.90" y="437.62" width="3.8" height="3.8" fill="#d82a46" stroke="#6a0818" stroke-width="0.6"/>
<rect x="264.30" y="437.62" width="3.8" height="3.8" fill="#d82a46" stroke="#6a0818" stroke-width="0.6"/>
<rect x="274.90" y="437.62" width="3.8" height="3.8" fill="#d82a46" stroke="#6a0818" stroke-width="0.6"/>
<rect x="317.60" y="439.11" width="3.8" height="3.8" fill="#d82a46" stroke="#6a0818" stroke-width="0.6"/>
<circle cx="255.50" cy="439.52" r="1.9" fill="#d82a46" stroke="#6a0818" stroke-width="0.6"/>
<circle cx="258.20" cy="441.01" r="1.9" fill="#d82a46" stroke="#6a0818" stroke-width="0.6"/>
<circle cx="260.80" cy="440.12" r="1.9" fill="#d82a46" stroke="#6a0818" stroke-width="0.6"/>
<circle cx="266.20" cy="438.92" r="1.9" fill="#d82a46" stroke="#6a0818" stroke-width="0.6"/>
<circle cx="276.80" cy="438.92" r="1.9" fill="#d82a46" stroke="#6a0818" stroke-width="0.6"/>
<circle cx="319.50" cy="426.41" r="1.9" fill="#d82a46" stroke="#6a0818" stroke-width="0.6"/>
<line x1="338.50" y1="397.80" x2="338.50" y2="442.50" stroke="#333" stroke-width="0.9" />
<line x1="338.50" y1="442.50" x2="406.00" y2="442.50" stroke="#333" stroke-width="0.9" />
<line x1="336.70" y1="442.50" x2="338.50" y2="442.50" stroke="#333" stroke-width="0.7" />
<text x="336.10" y="444.40" font-size="5.5" text-anchor="end" fill="#222" stroke="#222" >0</text>
<line x1="336.70" y1="420.15" x2="338.50" y2="420.15" stroke="#333" stroke-width="0.7" />
<text x="336.10" y="422.05" font-size="5.5" text-anchor="end" fill="#222" stroke="#222" >100</text>
<line x1="336.70" y1="397.80" x2="338.50" y2="397.80" stroke="#333" stroke-width="0.7" />
<text x="336.10" y="399.70" font-size="5.5" text-anchor="end" fill="#222" stroke="#222" >200</text>
<line x1="338.50" y1="442.50" x2="338.50" y2="444.10" stroke="#333" stroke-width="0.7" />
<line x1="359.54" y1="442.50" x2="359.54" y2="444.10" stroke="#333" stroke-width="0.7" />
<line x1="380.58" y1="442.50" x2="380.58" y2="444.10" stroke="#333" stroke-width="0.7" />
<line x1="401.62" y1="442.50" x2="401.62" y2="444.10" stroke="#333" stroke-width="0.7" />
<text x="377.60" y="411.60" font-size="8.2" text-anchor="middle" font-weight="bold" fill="#111" stroke="#111" >Tlr6</text>
<polyline points="338.50,433.56 341.20,433.56 343.80,435.80 349.20,423.50 359.80,425.74 402.50,429.09" fill="none" stroke="#222" stroke-width="0.95"/>
<polyline points="338.50,435.80 341.20,435.80 343.80,422.38 349.20,402.27 359.80,413.44 402.50,430.21" fill="none" stroke="#222" stroke-width="0.95"/>
<polyline points="338.50,429.09 341.20,438.03 343.80,440.26 349.20,440.26 359.80,439.82 402.50,440.26" fill="none" stroke="#222" stroke-width="0.95"/>
<polyline points="338.50,429.09 341.20,436.91 343.80,439.15 349.20,440.71 359.80,440.71 402.50,440.71" fill="none" stroke="#222" stroke-width="0.95"/>
<rect x="336.60" y="433.90" width="3.8" height="3.8" fill="#1c9556" stroke="#0b4a2a" stroke-width="0.6"/>
<rect x="339.30" y="433.90" width="3.8" height="3.8" fill="#1c9556" stroke="#0b4a2a" stroke-width="0.6"/>
<rect x="341.90" y="420.49" width="3.8" height="3.8" fill="#1c9556" stroke="#0b4a2a" stroke-width="0.6"/>
<rect x="347.30" y="400.37" width="3.8" height="3.8" fill="#1c9556" stroke="#0b4a2a" stroke-width="0.6"/>
<rect x="357.90" y="411.55" width="3.8" height="3.8" fill="#1c9556" stroke="#0b4a2a" stroke-width="0.6"/>
<rect x="400.60" y="428.31" width="3.8" height="3.8" fill="#1c9556" stroke="#0b4a2a" stroke-width="0.6"/>
<circle cx="338.50" cy="433.56" r="1.9" fill="#1e7a48" stroke="#0b4a2a" stroke-width="0.6"/>
<circle cx="341.20" cy="433.56" r="1.9" fill="#1e7a48" stroke="#0b4a2a" stroke-width="0.6"/>
<circle cx="343.80" cy="435.80" r="1.9" fill="#1e7a48" stroke="#0b4a2a" stroke-width="0.6"/>
<circle cx="349.20" cy="423.50" r="1.9" fill="#1e7a48" stroke="#0b4a2a" stroke-width="0.6"/>
<circle cx="359.80" cy="425.74" r="1.9" fill="#1e7a48" stroke="#0b4a2a" stroke-width="0.6"/>
<circle cx="402.50" cy="429.09" r="1.9" fill="#1e7a48" stroke="#0b4a2a" stroke-width="0.6"/>
<rect x="336.60" y="427.19" width="3.8" height="3.8" fill="#d82a46" stroke="#6a0818" stroke-width="0.6"/>
<rect x="339.30" y="435.01" width="3.8" height="3.8" fill="#d82a46" stroke="#6a0818" stroke-width="0.6"/>
<rect x="341.90" y="437.25" width="3.8" height="3.8" fill="#d82a46" stroke="#6a0818" stroke-width="0.6"/>
<rect x="347.30" y="438.81" width="3.8" height="3.8" fill="#d82a46" stroke="#6a0818" stroke-width="0.6"/>
<rect x="357.90" y="438.81" width="3.8" height="3.8" fill="#d82a46" stroke="#6a0818" stroke-width="0.6"/>
<rect x="400.60" y="438.81" width="3.8" height="3.8" fill="#d82a46" stroke="#6a0818" stroke-width="0.6"/>
<circle cx="338.50" cy="429.09" r="1.9" fill="#d82a46" stroke="#6a0818" stroke-width="0.6"/>
<circle cx="341.20" cy="438.03" r="1.9" fill="#d82a46" stroke="#6a0818" stroke-width="0.6"/>
<circle cx="343.80" cy="440.26" r="1.9" fill="#d82a46" stroke="#6a0818" stroke-width="0.6"/>
<circle cx="349.20" cy="440.26" r="1.9" fill="#d82a46" stroke="#6a0818" stroke-width="0.6"/>
<circle cx="359.80" cy="439.82" r="1.9" fill="#d82a46" stroke="#6a0818" stroke-width="0.6"/>
<circle cx="402.50" cy="440.26" r="1.9" fill="#d82a46" stroke="#6a0818" stroke-width="0.6"/>
<line x1="424.50" y1="397.80" x2="424.50" y2="442.50" stroke="#333" stroke-width="0.9" />
<line x1="424.50" y1="442.50" x2="492.00" y2="442.50" stroke="#333" stroke-width="0.9" />
<line x1="422.70" y1="442.50" x2="424.50" y2="442.50" stroke="#333" stroke-width="0.7" />
<text x="422.10" y="444.40" font-size="5.5" text-anchor="end" fill="#222" stroke="#222" >0</text>
<line x1="422.70" y1="420.15" x2="424.50" y2="420.15" stroke="#333" stroke-width="0.7" />
<text x="422.10" y="422.05" font-size="5.5" text-anchor="end" fill="#222" stroke="#222" >60</text>
<line x1="422.70" y1="397.80" x2="424.50" y2="397.80" stroke="#333" stroke-width="0.7" />
<text x="422.10" y="399.70" font-size="5.5" text-anchor="end" fill="#222" stroke="#222" >120</text>
<line x1="424.50" y1="442.50" x2="424.50" y2="444.10" stroke="#333" stroke-width="0.7" />
<line x1="445.54" y1="442.50" x2="445.54" y2="444.10" stroke="#333" stroke-width="0.7" />
<line x1="466.58" y1="442.50" x2="466.58" y2="444.10" stroke="#333" stroke-width="0.7" />
<line x1="487.62" y1="442.50" x2="487.62" y2="444.10" stroke="#333" stroke-width="0.7" />
<text x="460.40" y="411.90" font-size="8.2" text-anchor="middle" font-weight="bold" fill="#111" stroke="#111" >Md2</text>
<polyline points="424.50,431.32 427.20,431.32 429.80,422.01 435.20,407.11 445.80,425.74 488.50,417.17" fill="none" stroke="#222" stroke-width="0.95"/>
<polyline points="424.50,433.19 427.20,433.19 429.80,423.88 435.20,412.70 445.80,417.17 488.50,429.46" fill="none" stroke="#222" stroke-width="0.95"/>
<polyline points="424.50,435.05 427.20,435.05 429.80,435.80 435.20,410.84 445.80,422.01 488.50,440.64" fill="none" stroke="#222" stroke-width="0.95"/>
<polyline points="424.50,413.44 427.20,429.46 429.80,435.05 435.20,435.80 445.80,422.01 488.50,440.64" fill="none" stroke="#222" stroke-width="0.95"/>
<rect x="422.60" y="431.29" width="3.8" height="3.8" fill="#1c9556" stroke="#0b4a2a" stroke-width="0.6"/>
<rect x="425.30" y="431.29" width="3.8" height="3.8" fill="#1c9556" stroke="#0b4a2a" stroke-width="0.6"/>
<rect x="427.90" y="421.98" width="3.8" height="3.8" fill="#1c9556" stroke="#0b4a2a" stroke-width="0.6"/>
<rect x="433.30" y="410.80" width="3.8" height="3.8" fill="#1c9556" stroke="#0b4a2a" stroke-width="0.6"/>
<rect x="443.90" y="415.27" width="3.8" height="3.8" fill="#1c9556" stroke="#0b4a2a" stroke-width="0.6"/>
<rect x="486.60" y="427.56" width="3.8" height="3.8" fill="#1c9556" stroke="#0b4a2a" stroke-width="0.6"/>
<circle cx="424.50" cy="431.32" r="1.9" fill="#1e7a48" stroke="#0b4a2a" stroke-width="0.6"/>
<circle cx="427.20" cy="431.32" r="1.9" fill="#1e7a48" stroke="#0b4a2a" stroke-width="0.6"/>
<circle cx="429.80" cy="422.01" r="1.9" fill="#1e7a48" stroke="#0b4a2a" stroke-width="0.6"/>
<circle cx="435.20" cy="407.11" r="1.9" fill="#1e7a48" stroke="#0b4a2a" stroke-width="0.6"/>
<circle cx="445.80" cy="425.74" r="1.9" fill="#1e7a48" stroke="#0b4a2a" stroke-width="0.6"/>
<circle cx="488.50" cy="417.17" r="1.9" fill="#1e7a48" stroke="#0b4a2a" stroke-width="0.6"/>
<rect x="422.60" y="411.55" width="3.8" height="3.8" fill="#d82a46" stroke="#6a0818" stroke-width="0.6"/>
<rect x="425.30" y="427.56" width="3.8" height="3.8" fill="#d82a46" stroke="#6a0818" stroke-width="0.6"/>
<rect x="427.90" y="433.15" width="3.8" height="3.8" fill="#d82a46" stroke="#6a0818" stroke-width="0.6"/>
<rect x="433.30" y="433.90" width="3.8" height="3.8" fill="#d82a46" stroke="#6a0818" stroke-width="0.6"/>
<rect x="443.90" y="420.11" width="3.8" height="3.8" fill="#d82a46" stroke="#6a0818" stroke-width="0.6"/>
<rect x="486.60" y="438.74" width="3.8" height="3.8" fill="#d82a46" stroke="#6a0818" stroke-width="0.6"/>
<circle cx="424.50" cy="435.05" r="1.9" fill="#d82a46" stroke="#6a0818" stroke-width="0.6"/>
<circle cx="427.20" cy="435.05" r="1.9" fill="#d82a46" stroke="#6a0818" stroke-width="0.6"/>
<circle cx="429.80" cy="435.80" r="1.9" fill="#d82a46" stroke="#6a0818" stroke-width="0.6"/>
<circle cx="435.20" cy="410.84" r="1.9" fill="#d82a46" stroke="#6a0818" stroke-width="0.6"/>
<circle cx="445.80" cy="422.01" r="1.9" fill="#d82a46" stroke="#6a0818" stroke-width="0.6"/>
<circle cx="488.50" cy="440.64" r="1.9" fill="#d82a46" stroke="#6a0818" stroke-width="0.6"/>
<line x1="255.50" y1="449.50" x2="255.50" y2="495.50" stroke="#333" stroke-width="0.9" />
<line x1="255.50" y1="495.50" x2="323.00" y2="495.50" stroke="#333" stroke-width="0.9" />
<line x1="253.70" y1="495.50" x2="255.50" y2="495.50" stroke="#333" stroke-width="0.7" />
<text x="253.10" y="497.40" font-size="5.5" text-anchor="end" fill="#222" stroke="#222" >0</text>
<line x1="253.70" y1="472.50" x2="255.50" y2="472.50" stroke="#333" stroke-width="0.7" />
<text x="253.10" y="474.40" font-size="5.5" text-anchor="end" fill="#222" stroke="#222" >50</text>
<line x1="253.70" y1="449.50" x2="255.50" y2="449.50" stroke="#333" stroke-width="0.7" />
<text x="253.10" y="451.40" font-size="5.5" text-anchor="end" fill="#222" stroke="#222" >100</text>
<line x1="255.50" y1="495.50" x2="255.50" y2="497.10" stroke="#333" stroke-width="0.7" />
<line x1="276.54" y1="495.50" x2="276.54" y2="497.10" stroke="#333" stroke-width="0.7" />
<line x1="297.58" y1="495.50" x2="297.58" y2="497.10" stroke="#333" stroke-width="0.7" />
<line x1="318.62" y1="495.50" x2="318.62" y2="497.10" stroke="#333" stroke-width="0.7" />
<text x="297.60" y="462.30" font-size="8.2" text-anchor="middle" font-weight="bold" fill="#111" stroke="#111" >Tlr3</text>
<polyline points="255.50,493.20 258.20,494.12 260.80,493.20 266.20,477.10 276.80,450.88 319.50,483.08" fill="none" stroke="#222" stroke-width="0.95"/>
<polyline points="255.50,493.20 258.20,494.12 260.80,494.12 266.20,493.20 276.80,492.28 319.50,493.66" fill="none" stroke="#222" stroke-width="0.95"/>
<polyline points="255.50,491.82 258.20,494.58 260.80,494.58 266.20,494.58 276.80,495.04 319.50,488.60" fill="none" stroke="#222" stroke-width="0.95"/>
<polyline points="255.50,491.82 258.20,494.12 260.80,494.58 266.20,494.58 276.80,495.04 319.50,494.12" fill="none" stroke="#222" stroke-width="0.95"/>
<rect x="253.60" y="491.30" width="3.8" height="3.8" fill="#1c9556" stroke="#0b4a2a" stroke-width="0.6"/>
<rect x="256.30" y="492.22" width="3.8" height="3.8" fill="#1c9556" stroke="#0b4a2a" stroke-width="0.6"/>
<rect x="258.90" y="492.22" width="3.8" height="3.8" fill="#1c9556" stroke="#0b4a2a" stroke-width="0.6"/>
<rect x="264.30" y="491.30" width="3.8" height="3.8" fill="#1c9556" stroke="#0b4a2a" stroke-width="0.6"/>
<rect x="274.90" y="490.38" width="3.8" height="3.8" fill="#1c9556" stroke="#0b4a2a" stroke-width="0.6"/>
<rect x="317.60" y="491.76" width="3.8" height="3.8" fill="#1c9556" stroke="#0b4a2a" stroke-width="0.6"/>
<circle cx="255.50" cy="493.20" r="1.9" fill="#1e7a48" stroke="#0b4a2a" stroke-width="0.6"/>
<circle cx="258.20" cy="494.12" r="1.9" fill="#1e7a48" stroke="#0b4a2a" stroke-width="0.6"/>
<circle cx="260.80" cy="493.20" r="1.9" fill="#1e7a48" stroke="#0b4a2a" stroke-width="0.6"/>
<circle cx="266.20" cy="477.10" r="1.9" fill="#1e7a48" stroke="#0b4a2a" stroke-width="0.6"/>
<circle cx="276.80" cy="450.88" r="1.9" fill="#1e7a48" stroke="#0b4a2a" stroke-width="0.6"/>
<circle cx="319.50" cy="483.08" r="1.9" fill="#1e7a48" stroke="#0b4a2a" stroke-width="0.6"/>
<rect x="253.60" y="489.92" width="3.8" height="3.8" fill="#d82a46" stroke="#6a0818" stroke-width="0.6"/>
<rect x="256.30" y="492.22" width="3.8" height="3.8" fill="#d82a46" stroke="#6a0818" stroke-width="0.6"/>
<rect x="258.90" y="492.68" width="3.8" height="3.8" fill="#d82a46" stroke="#6a0818" stroke-width="0.6"/>
<rect x="264.30" y="492.68" width="3.8" height="3.8" fill="#d82a46" stroke="#6a0818" stroke-width="0.6"/>
<rect x="274.90" y="493.14" width="3.8" height="3.8" fill="#d82a46" stroke="#6a0818" stroke-width="0.6"/>
<rect x="317.60" y="492.22" width="3.8" height="3.8" fill="#d82a46" stroke="#6a0818" stroke-width="0.6"/>
<circle cx="255.50" cy="491.82" r="1.9" fill="#d82a46" stroke="#6a0818" stroke-width="0.6"/>
<circle cx="258.20" cy="494.58" r="1.9" fill="#d82a46" stroke="#6a0818" stroke-width="0.6"/>
<circle cx="260.80" cy="494.58" r="1.9" fill="#d82a46" stroke="#6a0818" stroke-width="0.6"/>
<circle cx="266.20" cy="494.58" r="1.9" fill="#d82a46" stroke="#6a0818" stroke-width="0.6"/>
<circle cx="276.80" cy="495.04" r="1.9" fill="#d82a46" stroke="#6a0818" stroke-width="0.6"/>
<circle cx="319.50" cy="488.60" r="1.9" fill="#d82a46" stroke="#6a0818" stroke-width="0.6"/>
<line x1="338.50" y1="449.50" x2="338.50" y2="495.50" stroke="#333" stroke-width="0.9" />
<line x1="338.50" y1="495.50" x2="406.00" y2="495.50" stroke="#333" stroke-width="0.9" />
<line x1="336.70" y1="495.50" x2="338.50" y2="495.50" stroke="#333" stroke-width="0.7" />
<text x="336.10" y="497.40" font-size="5.5" text-anchor="end" fill="#222" stroke="#222" >0</text>
<line x1="336.70" y1="472.50" x2="338.50" y2="472.50" stroke="#333" stroke-width="0.7" />
<text x="336.10" y="474.40" font-size="5.5" text-anchor="end" fill="#222" stroke="#222" >8</text>
<line x1="336.70" y1="449.50" x2="338.50" y2="449.50" stroke="#333" stroke-width="0.7" />
<text x="336.10" y="451.40" font-size="5.5" text-anchor="end" fill="#222" stroke="#222" >16</text>
<line x1="338.50" y1="495.50" x2="338.50" y2="497.10" stroke="#333" stroke-width="0.7" />
<line x1="359.54" y1="495.50" x2="359.54" y2="497.10" stroke="#333" stroke-width="0.7" />
<line x1="380.58" y1="495.50" x2="380.58" y2="497.10" stroke="#333" stroke-width="0.7" />
<line x1="401.62" y1="495.50" x2="401.62" y2="497.10" stroke="#333" stroke-width="0.7" />
<text x="377.30" y="462.30" font-size="8.2" text-anchor="middle" font-weight="bold" fill="#111" stroke="#111" >Tlr7</text>
<polyline points="338.50,478.25 341.20,478.25 343.80,471.06 349.20,453.81 359.80,456.69 402.50,476.81" fill="none" stroke="#222" stroke-width="0.95"/>
<polyline points="338.50,478.25 341.20,479.69 343.80,465.31 349.20,484.00 359.80,482.56 402.50,489.75" fill="none" stroke="#222" stroke-width="0.95"/>
<polyline points="338.50,479.69 341.20,486.88 343.80,488.31 349.20,489.75 359.80,494.64 402.50,494.93" fill="none" stroke="#222" stroke-width="0.95"/>
<polyline points="338.50,479.69 341.20,486.88 343.80,488.31 349.20,492.62 359.80,495.21 402.50,495.21" fill="none" stroke="#222" stroke-width="0.95"/>
<rect x="336.60" y="476.35" width="3.8" height="3.8" fill="#1c9556" stroke="#0b4a2a" stroke-width="0.6"/>
<rect x="339.30" y="477.79" width="3.8" height="3.8" fill="#1c9556" stroke="#0b4a2a" stroke-width="0.6"/>
<rect x="341.90" y="463.41" width="3.8" height="3.8" fill="#1c9556" stroke="#0b4a2a" stroke-width="0.6"/>
<rect x="347.30" y="482.10" width="3.8" height="3.8" fill="#1c9556" stroke="#0b4a2a" stroke-width="0.6"/>
<rect x="357.90" y="480.66" width="3.8" height="3.8" fill="#1c9556" stroke="#0b4a2a" stroke-width="0.6"/>
<rect x="400.60" y="487.85" width="3.8" height="3.8" fill="#1c9556" stroke="#0b4a2a" stroke-width="0.6"/>
<circle cx="338.50" cy="478.25" r="1.9" fill="#1e7a48" stroke="#0b4a2a" stroke-width="0.6"/>
<circle cx="341.20" cy="478.25" r="1.9" fill="#1e7a48" stroke="#0b4a2a" stroke-width="0.6"/>
<circle cx="343.80" cy="471.06" r="1.9" fill="#1e7a48" stroke="#0b4a2a" stroke-width="0.6"/>
<circle cx="349.20" cy="453.81" r="1.9" fill="#1e7a48" stroke="#0b4a2a" stroke-width="0.6"/>
<circle cx="359.80" cy="456.69" r="1.9" fill="#1e7a48" stroke="#0b4a2a" stroke-width="0.6"/>
<circle cx="402.50" cy="476.81" r="1.9" fill="#1e7a48" stroke="#0b4a2a" stroke-width="0.6"/>
<rect x="336.60" y="477.79" width="3.8" height="3.8" fill="#d82a46" stroke="#6a0818" stroke-width="0.6"/>
<rect x="339.30" y="484.98" width="3.8" height="3.8" fill="#d82a46" stroke="#6a0818" stroke-width="0.6"/>
<rect x="341.90" y="486.41" width="3.8" height="3.8" fill="#d82a46" stroke="#6a0818" stroke-width="0.6"/>
<rect x="347.30" y="490.73" width="3.8" height="3.8" fill="#d82a46" stroke="#6a0818" stroke-width="0.6"/>
<rect x="357.90" y="493.31" width="3.8" height="3.8" fill="#d82a46" stroke="#6a0818" stroke-width="0.6"/>
<rect x="400.60" y="493.31" width="3.8" height="3.8" fill="#d82a46" stroke="#6a0818" stroke-width="0.6"/>
<circle cx="338.50" cy="479.69" r="1.9" fill="#d82a46" stroke="#6a0818" stroke-width="0.6"/>
<circle cx="341.20" cy="486.88" r="1.9" fill="#d82a46" stroke="#6a0818" stroke-width="0.6"/>
<circle cx="343.80" cy="488.31" r="1.9" fill="#d82a46" stroke="#6a0818" stroke-width="0.6"/>
<circle cx="349.20" cy="489.75" r="1.9" fill="#d82a46" stroke="#6a0818" stroke-width="0.6"/>
<circle cx="359.80" cy="494.64" r="1.9" fill="#d82a46" stroke="#6a0818" stroke-width="0.6"/>
<circle cx="402.50" cy="494.93" r="1.9" fill="#d82a46" stroke="#6a0818" stroke-width="0.6"/>
<line x1="424.50" y1="449.50" x2="424.50" y2="495.50" stroke="#333" stroke-width="0.9" />
<line x1="424.50" y1="495.50" x2="492.00" y2="495.50" stroke="#333" stroke-width="0.9" />
<line x1="422.70" y1="495.50" x2="424.50" y2="495.50" stroke="#333" stroke-width="0.7" />
<text x="422.10" y="497.40" font-size="5.5" text-anchor="end" fill="#222" stroke="#222" >0</text>
<line x1="422.70" y1="472.50" x2="424.50" y2="472.50" stroke="#333" stroke-width="0.7" />
<text x="422.10" y="474.40" font-size="5.5" text-anchor="end" fill="#222" stroke="#222" >900</text>
<line x1="422.70" y1="449.50" x2="424.50" y2="449.50" stroke="#333" stroke-width="0.7" />
<text x="422.10" y="451.40" font-size="5.5" text-anchor="end" fill="#222" stroke="#222" >1800</text>
<line x1="424.50" y1="495.50" x2="424.50" y2="497.10" stroke="#333" stroke-width="0.7" />
<line x1="445.54" y1="495.50" x2="445.54" y2="497.10" stroke="#333" stroke-width="0.7" />
<line x1="466.58" y1="495.50" x2="466.58" y2="497.10" stroke="#333" stroke-width="0.7" />
<line x1="487.62" y1="495.50" x2="487.62" y2="497.10" stroke="#333" stroke-width="0.7" />
<text x="460.40" y="461.50" font-size="8.2" text-anchor="middle" font-weight="bold" fill="#111" stroke="#111" >Cd14</text>
<polyline points="424.50,487.83 427.20,477.61 429.80,471.22 435.20,473.01 445.80,489.88 488.50,483.49" fill="none" stroke="#222" stroke-width="0.95"/>
<polyline points="424.50,487.83 427.20,477.10 429.80,469.94 435.20,454.61 445.80,468.67 488.50,483.23" fill="none" stroke="#222" stroke-width="0.95"/>
<polyline points="424.50,490.39 427.20,489.11 429.80,487.83 435.20,492.94 445.80,494.22 488.50,495.24" fill="none" stroke="#222" stroke-width="0.95"/>
<polyline points="424.50,490.39 427.20,489.11 429.80,487.83 435.20,489.11 445.80,494.22 488.50,495.24" fill="none" stroke="#222" stroke-width="0.95"/>
<rect x="422.60" y="485.93" width="3.8" height="3.8" fill="#1c9556" stroke="#0b4a2a" stroke-width="0.6"/>
<rect x="425.30" y="475.20" width="3.8" height="3.8" fill="#1c9556" stroke="#0b4a2a" stroke-width="0.6"/>
<rect x="427.90" y="468.04" width="3.8" height="3.8" fill="#1c9556" stroke="#0b4a2a" stroke-width="0.6"/>
<rect x="433.30" y="452.71" width="3.8" height="3.8" fill="#1c9556" stroke="#0b4a2a" stroke-width="0.6"/>
<rect x="443.90" y="466.77" width="3.8" height="3.8" fill="#1c9556" stroke="#0b4a2a" stroke-width="0.6"/>
<rect x="486.60" y="481.33" width="3.8" height="3.8" fill="#1c9556" stroke="#0b4a2a" stroke-width="0.6"/>
<circle cx="424.50" cy="487.83" r="1.9" fill="#1e7a48" stroke="#0b4a2a" stroke-width="0.6"/>
<circle cx="427.20" cy="477.61" r="1.9" fill="#1e7a48" stroke="#0b4a2a" stroke-width="0.6"/>
<circle cx="429.80" cy="471.22" r="1.9" fill="#1e7a48" stroke="#0b4a2a" stroke-width="0.6"/>
<circle cx="435.20" cy="473.01" r="1.9" fill="#1e7a48" stroke="#0b4a2a" stroke-width="0.6"/>
<circle cx="445.80" cy="489.88" r="1.9" fill="#1e7a48" stroke="#0b4a2a" stroke-width="0.6"/>
<circle cx="488.50" cy="483.49" r="1.9" fill="#1e7a48" stroke="#0b4a2a" stroke-width="0.6"/>
<rect x="422.60" y="488.49" width="3.8" height="3.8" fill="#d82a46" stroke="#6a0818" stroke-width="0.6"/>
<rect x="425.30" y="487.21" width="3.8" height="3.8" fill="#d82a46" stroke="#6a0818" stroke-width="0.6"/>
<rect x="427.90" y="485.93" width="3.8" height="3.8" fill="#d82a46" stroke="#6a0818" stroke-width="0.6"/>
<rect x="433.30" y="487.21" width="3.8" height="3.8" fill="#d82a46" stroke="#6a0818" stroke-width="0.6"/>
<rect x="443.90" y="492.32" width="3.8" height="3.8" fill="#d82a46" stroke="#6a0818" stroke-width="0.6"/>
<rect x="486.60" y="493.34" width="3.8" height="3.8" fill="#d82a46" stroke="#6a0818" stroke-width="0.6"/>
<circle cx="424.50" cy="490.39" r="1.9" fill="#d82a46" stroke="#6a0818" stroke-width="0.6"/>
<circle cx="427.20" cy="489.11" r="1.9" fill="#d82a46" stroke="#6a0818" stroke-width="0.6"/>
<circle cx="429.80" cy="487.83" r="1.9" fill="#d82a46" stroke="#6a0818" stroke-width="0.6"/>
<circle cx="435.20" cy="492.94" r="1.9" fill="#d82a46" stroke="#6a0818" stroke-width="0.6"/>
<circle cx="445.80" cy="494.22" r="1.9" fill="#d82a46" stroke="#6a0818" stroke-width="0.6"/>
<circle cx="488.50" cy="495.24" r="1.9" fill="#d82a46" stroke="#6a0818" stroke-width="0.6"/>
<line x1="255.50" y1="500.20" x2="255.50" y2="545.50" stroke="#333" stroke-width="0.9" />
<line x1="255.50" y1="545.50" x2="323.00" y2="545.50" stroke="#333" stroke-width="0.9" />
<line x1="253.70" y1="545.50" x2="255.50" y2="545.50" stroke="#333" stroke-width="0.7" />
<text x="253.10" y="547.40" font-size="5.5" text-anchor="end" fill="#222" stroke="#222" >0</text>
<line x1="253.70" y1="522.85" x2="255.50" y2="522.85" stroke="#333" stroke-width="0.7" />
<text x="253.10" y="524.75" font-size="5.5" text-anchor="end" fill="#222" stroke="#222" >300</text>
<line x1="253.70" y1="500.20" x2="255.50" y2="500.20" stroke="#333" stroke-width="0.7" />
<text x="253.10" y="502.10" font-size="5.5" text-anchor="end" fill="#222" stroke="#222" >600</text>
<line x1="255.50" y1="545.50" x2="255.50" y2="547.10" stroke="#333" stroke-width="0.7" />
<line x1="276.54" y1="545.50" x2="276.54" y2="547.10" stroke="#333" stroke-width="0.7" />
<line x1="297.58" y1="545.50" x2="297.58" y2="547.10" stroke="#333" stroke-width="0.7" />
<line x1="318.62" y1="545.50" x2="318.62" y2="547.10" stroke="#333" stroke-width="0.7" />
<text x="255.50" y="555.40" font-size="5.8" text-anchor="middle" fill="#222" stroke="#222" >0</text>
<text x="275.70" y="555.40" font-size="5.8" text-anchor="middle" fill="#222" stroke="#222" >8</text>
<text x="295.90" y="555.40" font-size="5.8" text-anchor="middle" fill="#222" stroke="#222" >16</text>
<text x="316.10" y="555.40" font-size="5.8" text-anchor="middle" fill="#222" stroke="#222" >24</text>
<text x="297.20" y="515.80" font-size="8.2" text-anchor="middle" font-weight="bold" fill="#111" stroke="#111" >Tlr4</text>
<polyline points="255.50,527.38 258.20,531.91 260.80,537.95 266.20,541.73 276.80,536.44 319.50,538.71" fill="none" stroke="#222" stroke-width="0.95"/>
<polyline points="255.50,526.62 258.20,509.26 260.80,530.40 266.20,539.46 276.80,525.87 319.50,537.95" fill="none" stroke="#222" stroke-width="0.95"/>
<polyline points="255.50,527.38 258.20,539.46 260.80,541.73 266.20,541.73 276.80,540.97 319.50,535.68" fill="none" stroke="#222" stroke-width="0.95"/>
<polyline points="255.50,527.38 258.20,528.13 260.80,533.42 266.20,531.15 276.80,536.44 319.50,531.91" fill="none" stroke="#222" stroke-width="0.95"/>
<rect x="253.60" y="524.73" width="3.8" height="3.8" fill="#1c9556" stroke="#0b4a2a" stroke-width="0.6"/>
<rect x="256.30" y="507.36" width="3.8" height="3.8" fill="#1c9556" stroke="#0b4a2a" stroke-width="0.6"/>
<rect x="258.90" y="528.50" width="3.8" height="3.8" fill="#1c9556" stroke="#0b4a2a" stroke-width="0.6"/>
<rect x="264.30" y="537.56" width="3.8" height="3.8" fill="#1c9556" stroke="#0b4a2a" stroke-width="0.6"/>
<rect x="274.90" y="523.97" width="3.8" height="3.8" fill="#1c9556" stroke="#0b4a2a" stroke-width="0.6"/>
<rect x="317.60" y="536.05" width="3.8" height="3.8" fill="#1c9556" stroke="#0b4a2a" stroke-width="0.6"/>
<circle cx="255.50" cy="527.38" r="1.9" fill="#1e7a48" stroke="#0b4a2a" stroke-width="0.6"/>
<circle cx="258.20" cy="531.91" r="1.9" fill="#1e7a48" stroke="#0b4a2a" stroke-width="0.6"/>
<circle cx="260.80" cy="537.95" r="1.9" fill="#1e7a48" stroke="#0b4a2a" stroke-width="0.6"/>
<circle cx="266.20" cy="541.73" r="1.9" fill="#1e7a48" stroke="#0b4a2a" stroke-width="0.6"/>
<circle cx="276.80" cy="536.44" r="1.9" fill="#1e7a48" stroke="#0b4a2a" stroke-width="0.6"/>
<circle cx="319.50" cy="538.71" r="1.9" fill="#1e7a48" stroke="#0b4a2a" stroke-width="0.6"/>
<rect x="253.60" y="525.48" width="3.8" height="3.8" fill="#d82a46" stroke="#6a0818" stroke-width="0.6"/>
<rect x="256.30" y="526.24" width="3.8" height="3.8" fill="#d82a46" stroke="#6a0818" stroke-width="0.6"/>
<rect x="258.90" y="531.52" width="3.8" height="3.8" fill="#d82a46" stroke="#6a0818" stroke-width="0.6"/>
<rect x="264.30" y="529.25" width="3.8" height="3.8" fill="#d82a46" stroke="#6a0818" stroke-width="0.6"/>
<rect x="274.90" y="534.54" width="3.8" height="3.8" fill="#d82a46" stroke="#6a0818" stroke-width="0.6"/>
<rect x="317.60" y="530.01" width="3.8" height="3.8" fill="#d82a46" stroke="#6a0818" stroke-width="0.6"/>
<circle cx="255.50" cy="527.38" r="1.9" fill="#d82a46" stroke="#6a0818" stroke-width="0.6"/>
<circle cx="258.20" cy="539.46" r="1.9" fill="#d82a46" stroke="#6a0818" stroke-width="0.6"/>
<circle cx="260.80" cy="541.73" r="1.9" fill="#d82a46" stroke="#6a0818" stroke-width="0.6"/>
<circle cx="266.20" cy="541.73" r="1.9" fill="#d82a46" stroke="#6a0818" stroke-width="0.6"/>
<circle cx="276.80" cy="540.97" r="1.9" fill="#d82a46" stroke="#6a0818" stroke-width="0.6"/>
<circle cx="319.50" cy="535.68" r="1.9" fill="#d82a46" stroke="#6a0818" stroke-width="0.6"/>
<line x1="338.50" y1="500.20" x2="338.50" y2="545.50" stroke="#333" stroke-width="0.9" />
<line x1="338.50" y1="545.50" x2="406.00" y2="545.50" stroke="#333" stroke-width="0.9" />
<line x1="336.70" y1="545.50" x2="338.50" y2="545.50" stroke="#333" stroke-width="0.7" />
<text x="336.10" y="547.40" font-size="5.5" text-anchor="end" fill="#222" stroke="#222" >0</text>
<line x1="336.70" y1="522.85" x2="338.50" y2="522.85" stroke="#333" stroke-width="0.7" />
<text x="336.10" y="524.75" font-size="5.5" text-anchor="end" fill="#222" stroke="#222" >1</text>
<line x1="336.70" y1="500.20" x2="338.50" y2="500.20" stroke="#333" stroke-width="0.7" />
<text x="336.10" y="502.10" font-size="5.5" text-anchor="end" fill="#222" stroke="#222" >2</text>
<line x1="338.50" y1="545.50" x2="338.50" y2="547.10" stroke="#333" stroke-width="0.7" />
<line x1="359.54" y1="545.50" x2="359.54" y2="547.10" stroke="#333" stroke-width="0.7" />
<line x1="380.58" y1="545.50" x2="380.58" y2="547.10" stroke="#333" stroke-width="0.7" />
<line x1="401.62" y1="545.50" x2="401.62" y2="547.10" stroke="#333" stroke-width="0.7" />
<text x="338.50" y="555.40" font-size="5.8" text-anchor="middle" fill="#222" stroke="#222" >0</text>
<text x="358.70" y="555.40" font-size="5.8" text-anchor="middle" fill="#222" stroke="#222" >8</text>
<text x="378.90" y="555.40" font-size="5.8" text-anchor="middle" fill="#222" stroke="#222" >16</text>
<text x="399.10" y="555.40" font-size="5.8" text-anchor="middle" fill="#222" stroke="#222" >24</text>
<text x="377.40" y="515.80" font-size="8.2" text-anchor="middle" font-weight="bold" fill="#111" stroke="#111" >Tlr8</text>
<polyline points="338.50,522.85 341.20,531.91 343.80,536.44 349.20,540.97 359.80,545.05 402.50,543.69" fill="none" stroke="#222" stroke-width="0.95"/>
<polyline points="338.50,522.85 341.20,529.64 343.80,534.17 349.20,540.97 359.80,545.05 402.50,544.59" fill="none" stroke="#222" stroke-width="0.95"/>
<polyline points="338.50,522.85 341.20,536.44 343.80,538.71 349.20,540.97 359.80,539.84 402.50,503.60" fill="none" stroke="#222" stroke-width="0.95"/>
<polyline points="338.50,522.85 341.20,535.76 343.80,541.42 349.20,540.52 359.80,539.38 402.50,522.40" fill="none" stroke="#222" stroke-width="0.95"/>
<rect x="336.60" y="520.95" width="3.8" height="3.8" fill="#1c9556" stroke="#0b4a2a" stroke-width="0.6"/>
<rect x="339.30" y="527.75" width="3.8" height="3.8" fill="#1c9556" stroke="#0b4a2a" stroke-width="0.6"/>
<rect x="341.90" y="532.27" width="3.8" height="3.8" fill="#1c9556" stroke="#0b4a2a" stroke-width="0.6"/>
<rect x="347.30" y="539.07" width="3.8" height="3.8" fill="#1c9556" stroke="#0b4a2a" stroke-width="0.6"/>
<rect x="357.90" y="543.15" width="3.8" height="3.8" fill="#1c9556" stroke="#0b4a2a" stroke-width="0.6"/>
<rect x="400.60" y="542.69" width="3.8" height="3.8" fill="#1c9556" stroke="#0b4a2a" stroke-width="0.6"/>
<circle cx="338.50" cy="522.85" r="1.9" fill="#1e7a48" stroke="#0b4a2a" stroke-width="0.6"/>
<circle cx="341.20" cy="531.91" r="1.9" fill="#1e7a48" stroke="#0b4a2a" stroke-width="0.6"/>
<circle cx="343.80" cy="536.44" r="1.9" fill="#1e7a48" stroke="#0b4a2a" stroke-width="0.6"/>
<circle cx="349.20" cy="540.97" r="1.9" fill="#1e7a48" stroke="#0b4a2a" stroke-width="0.6"/>
<circle cx="359.80" cy="545.05" r="1.9" fill="#1e7a48" stroke="#0b4a2a" stroke-width="0.6"/>
<circle cx="402.50" cy="543.69" r="1.9" fill="#1e7a48" stroke="#0b4a2a" stroke-width="0.6"/>
<rect x="336.60" y="520.95" width="3.8" height="3.8" fill="#d82a46" stroke="#6a0818" stroke-width="0.6"/>
<rect x="339.30" y="533.86" width="3.8" height="3.8" fill="#d82a46" stroke="#6a0818" stroke-width="0.6"/>
<rect x="341.90" y="539.52" width="3.8" height="3.8" fill="#d82a46" stroke="#6a0818" stroke-width="0.6"/>
<rect x="347.30" y="538.62" width="3.8" height="3.8" fill="#d82a46" stroke="#6a0818" stroke-width="0.6"/>
<rect x="357.90" y="537.48" width="3.8" height="3.8" fill="#d82a46" stroke="#6a0818" stroke-width="0.6"/>
<rect x="400.60" y="520.50" width="3.8" height="3.8" fill="#d82a46" stroke="#6a0818" stroke-width="0.6"/>
<circle cx="338.50" cy="522.85" r="1.9" fill="#d82a46" stroke="#6a0818" stroke-width="0.6"/>
<circle cx="341.20" cy="536.44" r="1.9" fill="#d82a46" stroke="#6a0818" stroke-width="0.6"/>
<circle cx="343.80" cy="538.71" r="1.9" fill="#d82a46" stroke="#6a0818" stroke-width="0.6"/>
<circle cx="349.20" cy="540.97" r="1.9" fill="#d82a46" stroke="#6a0818" stroke-width="0.6"/>
<circle cx="359.80" cy="539.84" r="1.9" fill="#d82a46" stroke="#6a0818" stroke-width="0.6"/>
<circle cx="402.50" cy="503.60" r="1.9" fill="#d82a46" stroke="#6a0818" stroke-width="0.6"/>
<line x1="424.50" y1="500.20" x2="424.50" y2="545.50" stroke="#333" stroke-width="0.9" />
<line x1="424.50" y1="545.50" x2="492.00" y2="545.50" stroke="#333" stroke-width="0.9" />
<line x1="422.70" y1="545.50" x2="424.50" y2="545.50" stroke="#333" stroke-width="0.7" />
<text x="422.10" y="547.40" font-size="5.5" text-anchor="end" fill="#222" stroke="#222" >0</text>
<line x1="422.70" y1="522.85" x2="424.50" y2="522.85" stroke="#333" stroke-width="0.7" />
<text x="422.10" y="524.75" font-size="5.5" text-anchor="end" fill="#222" stroke="#222" >300</text>
<line x1="422.70" y1="500.20" x2="424.50" y2="500.20" stroke="#333" stroke-width="0.7" />
<text x="422.10" y="502.10" font-size="5.5" text-anchor="end" fill="#222" stroke="#222" >600</text>
<line x1="424.50" y1="545.50" x2="424.50" y2="547.10" stroke="#333" stroke-width="0.7" />
<line x1="445.54" y1="545.50" x2="445.54" y2="547.10" stroke="#333" stroke-width="0.7" />
<line x1="466.58" y1="545.50" x2="466.58" y2="547.10" stroke="#333" stroke-width="0.7" />
<line x1="487.62" y1="545.50" x2="487.62" y2="547.10" stroke="#333" stroke-width="0.7" />
<text x="424.50" y="555.40" font-size="5.8" text-anchor="middle" fill="#222" stroke="#222" >0</text>
<text x="444.70" y="555.40" font-size="5.8" text-anchor="middle" fill="#222" stroke="#222" >8</text>
<text x="464.90" y="555.40" font-size="5.8" text-anchor="middle" fill="#222" stroke="#222" >16</text>
<text x="485.10" y="555.40" font-size="5.8" text-anchor="middle" fill="#222" stroke="#222" >24</text>
<text x="460.70" y="516.50" font-size="8.2" text-anchor="middle" font-weight="bold" fill="#111" stroke="#111" >Cd36</text>
<polyline points="424.50,530.40 427.20,511.52 429.80,522.85 435.20,517.56 445.80,534.17 488.50,539.46" fill="none" stroke="#222" stroke-width="0.95"/>
<polyline points="424.50,530.40 427.20,509.26 429.80,522.85 435.20,507.75 445.80,527.38 488.50,537.95" fill="none" stroke="#222" stroke-width="0.95"/>
<polyline points="424.50,530.40 427.20,519.08 429.80,526.62 435.20,525.87 445.80,528.13 488.50,539.46" fill="none" stroke="#222" stroke-width="0.95"/>
<polyline points="424.50,530.40 427.20,507.75 429.80,519.08 435.20,519.83 445.80,531.91 488.50,541.73" fill="none" stroke="#222" stroke-width="0.95"/>
<rect x="422.60" y="528.50" width="3.8" height="3.8" fill="#1c9556" stroke="#0b4a2a" stroke-width="0.6"/>
<rect x="425.30" y="507.36" width="3.8" height="3.8" fill="#1c9556" stroke="#0b4a2a" stroke-width="0.6"/>
<rect x="427.90" y="520.95" width="3.8" height="3.8" fill="#1c9556" stroke="#0b4a2a" stroke-width="0.6"/>
<rect x="433.30" y="505.85" width="3.8" height="3.8" fill="#1c9556" stroke="#0b4a2a" stroke-width="0.6"/>
<rect x="443.90" y="525.48" width="3.8" height="3.8" fill="#1c9556" stroke="#0b4a2a" stroke-width="0.6"/>
<rect x="486.60" y="536.05" width="3.8" height="3.8" fill="#1c9556" stroke="#0b4a2a" stroke-width="0.6"/>
<circle cx="424.50" cy="530.40" r="1.9" fill="#1e7a48" stroke="#0b4a2a" stroke-width="0.6"/>
<circle cx="427.20" cy="511.52" r="1.9" fill="#1e7a48" stroke="#0b4a2a" stroke-width="0.6"/>
<circle cx="429.80" cy="522.85" r="1.9" fill="#1e7a48" stroke="#0b4a2a" stroke-width="0.6"/>
<circle cx="435.20" cy="517.56" r="1.9" fill="#1e7a48" stroke="#0b4a2a" stroke-width="0.6"/>
<circle cx="445.80" cy="534.17" r="1.9" fill="#1e7a48" stroke="#0b4a2a" stroke-width="0.6"/>
<circle cx="488.50" cy="539.46" r="1.9" fill="#1e7a48" stroke="#0b4a2a" stroke-width="0.6"/>
<rect x="422.60" y="528.50" width="3.8" height="3.8" fill="#d82a46" stroke="#6a0818" stroke-width="0.6"/>
<rect x="425.30" y="505.85" width="3.8" height="3.8" fill="#d82a46" stroke="#6a0818" stroke-width="0.6"/>
<rect x="427.90" y="517.18" width="3.8" height="3.8" fill="#d82a46" stroke="#6a0818" stroke-width="0.6"/>
<rect x="433.30" y="517.93" width="3.8" height="3.8" fill="#d82a46" stroke="#6a0818" stroke-width="0.6"/>
<rect x="443.90" y="530.01" width="3.8" height="3.8" fill="#d82a46" stroke="#6a0818" stroke-width="0.6"/>
<rect x="486.60" y="539.83" width="3.8" height="3.8" fill="#d82a46" stroke="#6a0818" stroke-width="0.6"/>
<circle cx="424.50" cy="530.40" r="1.9" fill="#d82a46" stroke="#6a0818" stroke-width="0.6"/>
<circle cx="427.20" cy="519.08" r="1.9" fill="#d82a46" stroke="#6a0818" stroke-width="0.6"/>
<circle cx="429.80" cy="526.62" r="1.9" fill="#d82a46" stroke="#6a0818" stroke-width="0.6"/>
<circle cx="435.20" cy="525.87" r="1.9" fill="#d82a46" stroke="#6a0818" stroke-width="0.6"/>
<circle cx="445.80" cy="528.13" r="1.9" fill="#d82a46" stroke="#6a0818" stroke-width="0.6"/>
<circle cx="488.50" cy="539.46" r="1.9" fill="#d82a46" stroke="#6a0818" stroke-width="0.6"/>
<text x="370.20" y="568.40" font-size="8.5" text-anchor="middle" fill="#222" stroke="#222" >Hours</text>
</svg></div></body></html>
